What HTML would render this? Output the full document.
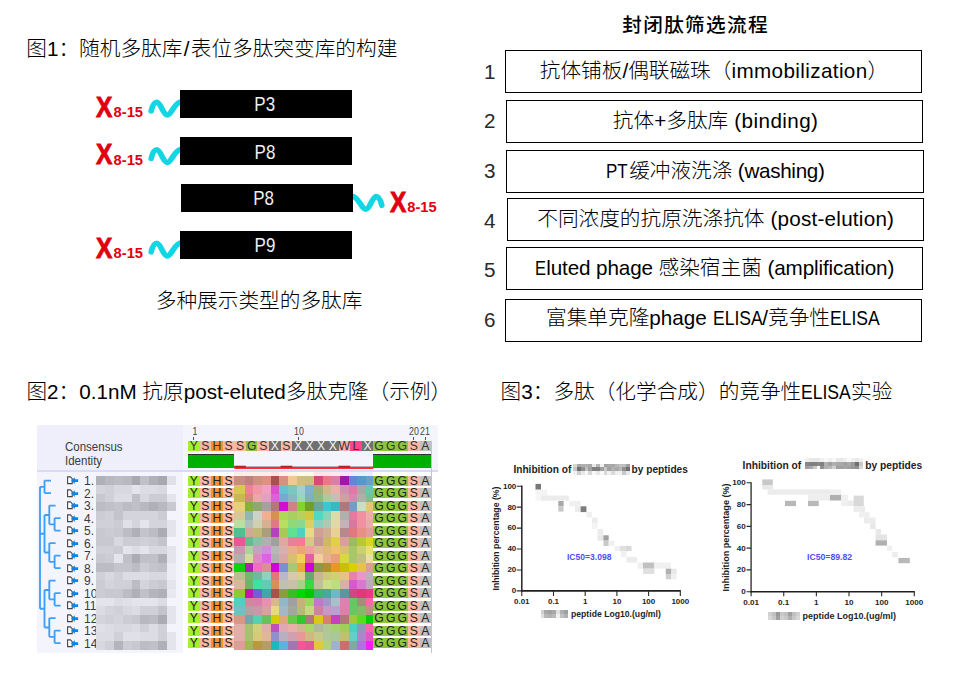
<!DOCTYPE html>
<html><head><meta charset="utf-8">
<style>
*{margin:0;padding:0;box-sizing:border-box}
html,body{width:968px;height:676px;overflow:hidden;background:#fff}
body{position:relative;font-family:"Liberation Sans","Noto Sans CJK SC",sans-serif;color:#000}
.t{position:absolute;white-space:nowrap;line-height:1;font-size:20.67px;font-weight:300}
i{font-style:normal}
.sx{display:inline-block;transform-origin:0 0}
.up{font-size:18.5px;letter-spacing:-0.6px}
.bar{position:absolute;left:180.2px;width:172px;height:28.3px;background:#000}
.bar span{position:absolute;left:0;right:0;top:3px;text-align:center;color:#eee;font-size:20.67px;line-height:22px;transform:scaleX(0.82)}
.xb,.xs{position:absolute;color:#e0000f;font-weight:bold;white-space:nowrap;line-height:1;font-family:"Liberation Sans",sans-serif}
.xb{font-size:29.5px;transform:scaleX(0.83);transform-origin:0 0;-webkit-text-stroke:0.9px #e0000f}
.xs{font-size:14.7px}
.box{position:absolute;border:1.2px solid #000;height:42px}
.box span{position:absolute;left:0;right:0;top:9px;text-align:center;font-size:20.67px;line-height:22px;white-space:nowrap;font-weight:300}
.num{position:absolute;font-size:20.67px;line-height:1;color:#2a2a2a}
.abs{position:absolute}
.c{position:absolute;height:10.4px;width:11.58px;text-align:center;font-size:12.2px;line-height:11.2px;color:#222;font-family:"Liberation Sans",sans-serif}
.m{position:absolute}
</style></head><body>

<div class="t" style="left:26.3px;top:38.5px">图1：随机多肽库<i style="margin:0 1.3px">/</i>表位多肽突变库的构建</div>
<svg class="abs" style="left:0;top:0" width="460" height="340">
 <g fill="none" stroke="#12d6e4" stroke-width="5.6" stroke-linecap="round">
  <path id="wv" d="M151.2 110.9 C152.3 106.5,154 102.3,156.8 102.3 C160.8 102.3,163 115,167.4 115 C171.6 115,174.5 102,181 102"/>
  <path d="M151.2 110.9 C152.3 106.5,154 102.3,156.8 102.3 C160.8 102.3,163 115,167.4 115 C171.6 115,174.5 102,181 102" transform="translate(0 47.5)"/>
  <path d="M151.2 110.9 C152.3 106.5,154 102.3,156.8 102.3 C160.8 102.3,163 115,167.4 115 C171.6 115,174.5 102,181 102" transform="translate(0 141)"/>
  <path d="M151.2 110.9 C152.3 106.5,154 102.3,156.8 102.3 C160.8 102.3,163 115,167.4 115 C171.6 115,174.5 102,181 102" transform="translate(533 94.3) scale(-1 1)"/>
 </g>
</svg>
<div class="bar" style="top:89.6px"><span style="left:-3.4px">P3</span></div>
<div class="bar" style="top:137px"><span style="left:-1.9px;top:4px">P8</span></div>
<div class="bar" style="top:183.9px;left:180.6px"><span style="left:-7.1px;top:3.5px">P8</span></div>
<div class="bar" style="top:230.5px"><span style="left:-1.9px">P9</span></div>
<div class="xb" style="left:95.9px;top:91.83px">X</div><div class="xs" style="left:113.6px;top:105.36px">8-15</div>
<div class="xb" style="left:95.9px;top:139.33px">X</div><div class="xs" style="left:113.6px;top:152.86px">8-15</div>
<div class="xb" style="left:389.6px;top:186.63px">X</div><div class="xs" style="left:407.3px;top:200.16px">8-15</div>
<div class="xb" style="left:95.9px;top:232.83px">X</div><div class="xs" style="left:113.6px;top:246.36px">8-15</div>
<div class="t" style="left:155.8px;top:290.8px">多种展示类型的多肽库</div>


<div class="t" style="left:622.2px;top:16.3px;font-weight:500;font-size:19.6px;letter-spacing:1.38px">封闭肽筛选流程</div>
<div class="num" style="left:484px;top:62px">1</div>
<div class="num" style="left:484px;top:111px">2</div>
<div class="num" style="left:484px;top:161px">3</div>
<div class="num" style="left:484px;top:211px">4</div>
<div class="num" style="left:484px;top:260px">5</div>
<div class="num" style="left:484px;top:310px">6</div>
<div class="box" style="left:504.9px;top:49.9px;width:417.1px;height:43px"><span style="top:9.3px;left:0.6px;right:-0.6px">抗体铺板/偶联磁珠（<i class="lw" style="letter-spacing:0.38px">immobilization</i>）</span></div>
<div class="box" style="left:506px;top:100px;width:417px;height:42.9px"><span style="top:9px;left:1.1px;right:-1.1px">抗体+多肽库<i class="lw" style="letter-spacing:0.4px"> (binding)</i></span></div>
<div class="box" style="left:506px;top:150.1px;width:417.7px;height:42.7px"><span style="top:9.0px;left:0.3px;right:-0.3px"><i class="sx" style="transform:scaleX(0.82);margin-right:-3.0px">PT</i>缓冲液洗涤<i class="lw" style="letter-spacing:-0.32px"> (washing)</i></span></div>
<div class="box" style="left:507px;top:197.9px;width:416.7px;height:42.9px"><span style="top:9.3px;left:0.4px;right:-0.4px">不同浓度的抗原洗涤抗体<i class="lw" style="letter-spacing:0.23px"> (post-elution)</i></span></div>
<div class="box" style="left:506px;top:247px;width:417px;height:42.8px"><span style="top:9.2px;left:0.2px;right:-0.2px"><i class="sx" style="transform:scaleX(0.8);margin-right:-2.76px">E</i><i class="lw" style="letter-spacing:-0.12px">luted phage </i>感染宿主菌<i class="lw" style="letter-spacing:-0.12px"> (amplification)</i></span></div>
<div class="box" style="left:505px;top:299.1px;width:417px;height:43px"><span style="top:7.1px;left:-0.6px;right:0.6px">富集单克隆<i class="lw">phage </i><i class="sx" style="transform:scaleX(0.85);margin-right:-8.8px">ELISA</i>/竞争性<i class="sx" style="transform:scaleX(0.85);margin-right:-8.8px">ELISA</i></span></div>
<div class="t" style="left:26.4px;top:381.6px">图2：0.1nM 抗原post-eluted多肽克隆（示例）</div>
<div class="t" style="left:500.6px;top:382.2px">图3：多肽（化学合成）的竞争性<i class="sx" style="transform:scaleX(0.85);margin-right:-8.8px">ELISA</i>实验</div>

<div class="abs" style="left:37.3px;top:425px;width:400.7px;height:45.10000000000002px;background:#f4f4fc"></div>
<div class="abs" style="left:37.3px;top:425px;width:145.7px;height:45.10000000000002px;background:#efeffb"></div>
<div class="abs" style="left:37.3px;top:470.1px;width:400.7px;height:1.6px;background:#dadaf8"></div>
<div class="abs" style="left:37.3px;top:471.70000000000005px;width:145.7px;height:181.19999999999996px;background:#f4f4fd"></div>
<div class="abs" style="left:183px;top:471.70000000000005px;width:255px;height:181.19999999999996px;background:#fff"></div>
<div class="abs" style="left:431.2px;top:440.5px;width:0.9px;height:212px;background:#c4c4c4"></div>
<div class="t" style="left:64.5px;top:441.0px;font-size:12.5px;font-weight:400;transform:scaleX(0.92);transform-origin:0 0;color:#3a3a3a;font-family:'Liberation Sans',sans-serif">Consensus</div>
<div class="t" style="left:64.5px;top:455.0px;font-size:12.5px;font-weight:400;transform:scaleX(0.92);transform-origin:0 0;color:#3a3a3a;font-family:'Liberation Sans',sans-serif">Identity</div>
<div class="c" style="left:188.00px;top:441px;background:#a2f030;color:#333">Y</div>
<div class="c" style="left:199.58px;top:441px;background:#fcb8a2;color:#333">S</div>
<div class="c" style="left:211.16px;top:441px;background:#fa9030;color:#333">H</div>
<div class="c" style="left:222.74px;top:441px;background:#fcb8a2;color:#333">S</div>
<div class="c" style="left:234.32px;top:441px;background:#fcb8a2;color:#333">S</div>
<div class="c" style="left:245.90px;top:441px;background:#8cc63e;color:#333">G</div>
<div class="c" style="left:257.48px;top:441px;background:#fcb8a2;color:#333">S</div>
<div class="c" style="left:269.06px;top:441px;background:#707070;color:#f4f4f4">X</div>
<div class="c" style="left:280.64px;top:441px;background:#fcb8a2;color:#333">S</div>
<div class="c" style="left:292.22px;top:441px;background:#707070;color:#f4f4f4">X</div>
<div class="c" style="left:303.80px;top:441px;background:#707070;color:#f4f4f4">X</div>
<div class="c" style="left:315.38px;top:441px;background:#707070;color:#f4f4f4">X</div>
<div class="c" style="left:326.96px;top:441px;background:#707070;color:#f4f4f4">X</div>
<div class="c" style="left:338.54px;top:441px;background:#f8b0b0;color:#333">W</div>
<div class="c" style="left:350.12px;top:441px;background:#f84888;color:#333">L</div>
<div class="c" style="left:361.70px;top:441px;background:#707070;color:#f4f4f4">X</div>
<div class="c" style="left:373.28px;top:441px;background:#8cc63e;color:#333">G</div>
<div class="c" style="left:384.86px;top:441px;background:#8cc63e;color:#333">G</div>
<div class="c" style="left:396.44px;top:441px;background:#8cc63e;color:#333">G</div>
<div class="c" style="left:408.02px;top:441px;background:#fcb8a2;color:#333">S</div>
<div class="c" style="left:419.60px;top:441px;background:#c0c0c0;color:#333">A</div>
<div class="t" style="left:184.79px;width:20px;text-align:center;top:426.9px;font-size:10px;font-weight:400;color:#444;transform:scaleX(0.88)">1</div>
<div class="abs" style="left:193.29px;top:437px;width:1px;height:2.8px;background:#555"></div>
<div class="t" style="left:289.01px;width:20px;text-align:center;top:426.9px;font-size:10px;font-weight:400;color:#444;transform:scaleX(0.88)">10</div>
<div class="abs" style="left:297.51px;top:437px;width:1px;height:2.8px;background:#555"></div>
<div class="t" style="left:403.51px;width:20px;text-align:center;top:426.9px;font-size:10px;font-weight:400;color:#444;transform:scaleX(0.88)">20</div>
<div class="abs" style="left:413.31px;top:437px;width:1px;height:2.8px;background:#555"></div>
<div class="t" style="left:415.19px;width:20px;text-align:center;top:426.9px;font-size:10px;font-weight:400;color:#444;transform:scaleX(0.88)">21</div>
<div class="abs" style="left:424.89px;top:437px;width:1px;height:2.8px;background:#555"></div>
<div class="abs" style="left:188.0px;top:454.3px;width:46.32px;height:14.2px;background:#00b000;border-top:1px solid #333"></div>
<div class="abs" style="left:373.28px;top:454.3px;width:57.90px;height:14.2px;background:#00b000;border-top:1px solid #333"></div>
<svg class="abs" style="left:0;top:0" width="450" height="480"><rect x="234.32" y="466.7" width="138.96" height="0.8" fill="#3a0000"/><rect x="234.32" y="467.5" width="138.96" height="1.3" fill="#f00"/><rect x="234.32" y="465.8" width="11.58" height="0.8" fill="#3a0000"/><rect x="234.32" y="466.6" width="11.58" height="1.0" fill="#f00"/><rect x="280.64" y="465.8" width="11.58" height="0.8" fill="#3a0000"/><rect x="280.64" y="466.6" width="11.58" height="1.0" fill="#f00"/><rect x="338.54" y="465.8" width="11.58" height="0.8" fill="#3a0000"/><rect x="338.54" y="466.6" width="11.58" height="1.0" fill="#f00"/></svg>
<div class="c" style="left:188.00px;top:475.50px;background:#a2f030">Y</div>
<div class="c" style="left:199.58px;top:475.50px;background:#fcb8a2">S</div>
<div class="c" style="left:211.16px;top:475.50px;background:#fa9030">H</div>
<div class="c" style="left:222.74px;top:475.50px;background:#fcb8a2">S</div>
<div class="c" style="left:373.28px;top:475.50px;background:#8cc63e">G</div>
<div class="c" style="left:384.86px;top:475.50px;background:#8cc63e">G</div>
<div class="c" style="left:396.44px;top:475.50px;background:#8cc63e">G</div>
<div class="c" style="left:408.02px;top:475.50px;background:#fcb8a2">S</div>
<div class="c" style="left:419.60px;top:475.50px;background:#c0c0c0">A</div>
<div class="c" style="left:188.00px;top:488.00px;background:#a2f030">Y</div>
<div class="c" style="left:199.58px;top:488.00px;background:#fcb8a2">S</div>
<div class="c" style="left:211.16px;top:488.00px;background:#fa9030">H</div>
<div class="c" style="left:222.74px;top:488.00px;background:#fcb8a2">S</div>
<div class="c" style="left:373.28px;top:488.00px;background:#8cc63e">G</div>
<div class="c" style="left:384.86px;top:488.00px;background:#8cc63e">G</div>
<div class="c" style="left:396.44px;top:488.00px;background:#8cc63e">G</div>
<div class="c" style="left:408.02px;top:488.00px;background:#fcb8a2">S</div>
<div class="c" style="left:419.60px;top:488.00px;background:#c0c0c0">A</div>
<div class="c" style="left:188.00px;top:500.50px;background:#a2f030">Y</div>
<div class="c" style="left:199.58px;top:500.50px;background:#fcb8a2">S</div>
<div class="c" style="left:211.16px;top:500.50px;background:#fa9030">H</div>
<div class="c" style="left:222.74px;top:500.50px;background:#fcb8a2">S</div>
<div class="c" style="left:373.28px;top:500.50px;background:#8cc63e">G</div>
<div class="c" style="left:384.86px;top:500.50px;background:#8cc63e">G</div>
<div class="c" style="left:396.44px;top:500.50px;background:#8cc63e">G</div>
<div class="c" style="left:408.02px;top:500.50px;background:#fcb8a2">S</div>
<div class="c" style="left:419.60px;top:500.50px;background:#c0c0c0">A</div>
<div class="c" style="left:188.00px;top:513.00px;background:#a2f030">Y</div>
<div class="c" style="left:199.58px;top:513.00px;background:#fcb8a2">S</div>
<div class="c" style="left:211.16px;top:513.00px;background:#fa9030">H</div>
<div class="c" style="left:222.74px;top:513.00px;background:#fcb8a2">S</div>
<div class="c" style="left:373.28px;top:513.00px;background:#8cc63e">G</div>
<div class="c" style="left:384.86px;top:513.00px;background:#8cc63e">G</div>
<div class="c" style="left:396.44px;top:513.00px;background:#8cc63e">G</div>
<div class="c" style="left:408.02px;top:513.00px;background:#fcb8a2">S</div>
<div class="c" style="left:419.60px;top:513.00px;background:#c0c0c0">A</div>
<div class="c" style="left:188.00px;top:525.50px;background:#a2f030">Y</div>
<div class="c" style="left:199.58px;top:525.50px;background:#fcb8a2">S</div>
<div class="c" style="left:211.16px;top:525.50px;background:#fa9030">H</div>
<div class="c" style="left:222.74px;top:525.50px;background:#fcb8a2">S</div>
<div class="c" style="left:373.28px;top:525.50px;background:#8cc63e">G</div>
<div class="c" style="left:384.86px;top:525.50px;background:#8cc63e">G</div>
<div class="c" style="left:396.44px;top:525.50px;background:#8cc63e">G</div>
<div class="c" style="left:408.02px;top:525.50px;background:#fcb8a2">S</div>
<div class="c" style="left:419.60px;top:525.50px;background:#c0c0c0">A</div>
<div class="c" style="left:188.00px;top:538.00px;background:#a2f030">Y</div>
<div class="c" style="left:199.58px;top:538.00px;background:#fcb8a2">S</div>
<div class="c" style="left:211.16px;top:538.00px;background:#fa9030">H</div>
<div class="c" style="left:222.74px;top:538.00px;background:#fcb8a2">S</div>
<div class="c" style="left:373.28px;top:538.00px;background:#8cc63e">G</div>
<div class="c" style="left:384.86px;top:538.00px;background:#8cc63e">G</div>
<div class="c" style="left:396.44px;top:538.00px;background:#8cc63e">G</div>
<div class="c" style="left:408.02px;top:538.00px;background:#fcb8a2">S</div>
<div class="c" style="left:419.60px;top:538.00px;background:#c0c0c0">A</div>
<div class="c" style="left:188.00px;top:550.50px;background:#a2f030">Y</div>
<div class="c" style="left:199.58px;top:550.50px;background:#fcb8a2">S</div>
<div class="c" style="left:211.16px;top:550.50px;background:#fa9030">H</div>
<div class="c" style="left:222.74px;top:550.50px;background:#fcb8a2">S</div>
<div class="c" style="left:373.28px;top:550.50px;background:#8cc63e">G</div>
<div class="c" style="left:384.86px;top:550.50px;background:#8cc63e">G</div>
<div class="c" style="left:396.44px;top:550.50px;background:#8cc63e">G</div>
<div class="c" style="left:408.02px;top:550.50px;background:#fcb8a2">S</div>
<div class="c" style="left:419.60px;top:550.50px;background:#c0c0c0">A</div>
<div class="c" style="left:188.00px;top:563.00px;background:#a2f030">Y</div>
<div class="c" style="left:199.58px;top:563.00px;background:#fcb8a2">S</div>
<div class="c" style="left:211.16px;top:563.00px;background:#fa9030">H</div>
<div class="c" style="left:222.74px;top:563.00px;background:#fcb8a2">S</div>
<div class="c" style="left:373.28px;top:563.00px;background:#8cc63e">G</div>
<div class="c" style="left:384.86px;top:563.00px;background:#8cc63e">G</div>
<div class="c" style="left:396.44px;top:563.00px;background:#8cc63e">G</div>
<div class="c" style="left:408.02px;top:563.00px;background:#fcb8a2">S</div>
<div class="c" style="left:419.60px;top:563.00px;background:#c0c0c0">A</div>
<div class="c" style="left:188.00px;top:575.50px;background:#a2f030">Y</div>
<div class="c" style="left:199.58px;top:575.50px;background:#fcb8a2">S</div>
<div class="c" style="left:211.16px;top:575.50px;background:#fa9030">H</div>
<div class="c" style="left:222.74px;top:575.50px;background:#fcb8a2">S</div>
<div class="c" style="left:373.28px;top:575.50px;background:#8cc63e">G</div>
<div class="c" style="left:384.86px;top:575.50px;background:#8cc63e">G</div>
<div class="c" style="left:396.44px;top:575.50px;background:#8cc63e">G</div>
<div class="c" style="left:408.02px;top:575.50px;background:#fcb8a2">S</div>
<div class="c" style="left:419.60px;top:575.50px;background:#c0c0c0">A</div>
<div class="c" style="left:188.00px;top:588.00px;background:#a2f030">Y</div>
<div class="c" style="left:199.58px;top:588.00px;background:#fcb8a2">S</div>
<div class="c" style="left:211.16px;top:588.00px;background:#fa9030">H</div>
<div class="c" style="left:222.74px;top:588.00px;background:#fcb8a2">S</div>
<div class="c" style="left:373.28px;top:588.00px;background:#8cc63e">G</div>
<div class="c" style="left:384.86px;top:588.00px;background:#8cc63e">G</div>
<div class="c" style="left:396.44px;top:588.00px;background:#8cc63e">G</div>
<div class="c" style="left:408.02px;top:588.00px;background:#fcb8a2">S</div>
<div class="c" style="left:419.60px;top:588.00px;background:#c0c0c0">A</div>
<div class="c" style="left:188.00px;top:600.50px;background:#a2f030">Y</div>
<div class="c" style="left:199.58px;top:600.50px;background:#fcb8a2">S</div>
<div class="c" style="left:211.16px;top:600.50px;background:#fa9030">H</div>
<div class="c" style="left:222.74px;top:600.50px;background:#fcb8a2">S</div>
<div class="c" style="left:373.28px;top:600.50px;background:#8cc63e">G</div>
<div class="c" style="left:384.86px;top:600.50px;background:#8cc63e">G</div>
<div class="c" style="left:396.44px;top:600.50px;background:#8cc63e">G</div>
<div class="c" style="left:408.02px;top:600.50px;background:#fcb8a2">S</div>
<div class="c" style="left:419.60px;top:600.50px;background:#c0c0c0">A</div>
<div class="c" style="left:188.00px;top:613.00px;background:#a2f030">Y</div>
<div class="c" style="left:199.58px;top:613.00px;background:#fcb8a2">S</div>
<div class="c" style="left:211.16px;top:613.00px;background:#fa9030">H</div>
<div class="c" style="left:222.74px;top:613.00px;background:#fcb8a2">S</div>
<div class="c" style="left:373.28px;top:613.00px;background:#8cc63e">G</div>
<div class="c" style="left:384.86px;top:613.00px;background:#8cc63e">G</div>
<div class="c" style="left:396.44px;top:613.00px;background:#8cc63e">G</div>
<div class="c" style="left:408.02px;top:613.00px;background:#fcb8a2">S</div>
<div class="c" style="left:419.60px;top:613.00px;background:#c0c0c0">A</div>
<div class="c" style="left:188.00px;top:625.50px;background:#a2f030">Y</div>
<div class="c" style="left:199.58px;top:625.50px;background:#fcb8a2">S</div>
<div class="c" style="left:211.16px;top:625.50px;background:#fa9030">H</div>
<div class="c" style="left:222.74px;top:625.50px;background:#fcb8a2">S</div>
<div class="c" style="left:373.28px;top:625.50px;background:#8cc63e">G</div>
<div class="c" style="left:384.86px;top:625.50px;background:#8cc63e">G</div>
<div class="c" style="left:396.44px;top:625.50px;background:#8cc63e">G</div>
<div class="c" style="left:408.02px;top:625.50px;background:#fcb8a2">S</div>
<div class="c" style="left:419.60px;top:625.50px;background:#c0c0c0">A</div>
<div class="c" style="left:188.00px;top:638.00px;background:#a2f030">Y</div>
<div class="c" style="left:199.58px;top:638.00px;background:#fcb8a2">S</div>
<div class="c" style="left:211.16px;top:638.00px;background:#fa9030">H</div>
<div class="c" style="left:222.74px;top:638.00px;background:#fcb8a2">S</div>
<div class="c" style="left:373.28px;top:638.00px;background:#8cc63e">G</div>
<div class="c" style="left:384.86px;top:638.00px;background:#8cc63e">G</div>
<div class="c" style="left:396.44px;top:638.00px;background:#8cc63e">G</div>
<div class="c" style="left:408.02px;top:638.00px;background:#fcb8a2">S</div>
<div class="c" style="left:419.60px;top:638.00px;background:#c0c0c0">A</div>
<div class="m" style="left:234.30px;top:471.6px;width:10.46px;height:4.70px;background:#fdeeea"></div>
<div class="m" style="left:244.76px;top:471.6px;width:8.66px;height:4.70px;background:#fdeeea"></div>
<div class="m" style="left:253.42px;top:471.6px;width:8.66px;height:4.70px;background:#fdeeea"></div>
<div class="m" style="left:262.08px;top:471.6px;width:8.66px;height:4.70px;background:#fdeeea"></div>
<div class="m" style="left:270.74px;top:471.6px;width:8.66px;height:4.70px;background:#fde2e2"></div>
<div class="m" style="left:279.40px;top:471.6px;width:8.66px;height:4.70px;background:#fff0e8"></div>
<div class="m" style="left:288.06px;top:471.6px;width:8.66px;height:4.70px;background:#fff4e8"></div>
<div class="m" style="left:296.72px;top:471.6px;width:8.66px;height:4.70px;background:#fffae8"></div>
<div class="m" style="left:305.38px;top:471.6px;width:8.66px;height:4.70px;background:#fffae8"></div>
<div class="m" style="left:314.04px;top:471.6px;width:8.66px;height:4.70px;background:#ffe4ea"></div>
<div class="m" style="left:322.70px;top:471.6px;width:8.66px;height:4.70px;background:#ffe4ea"></div>
<div class="m" style="left:331.36px;top:471.6px;width:8.66px;height:4.70px;background:#ffe8ee"></div>
<div class="m" style="left:340.02px;top:471.6px;width:8.66px;height:4.70px;background:#ffe2ff"></div>
<div class="m" style="left:348.68px;top:471.6px;width:8.66px;height:4.70px;background:#e8f0ff"></div>
<div class="m" style="left:357.34px;top:471.6px;width:8.66px;height:4.70px;background:#e8f0ff"></div>
<div class="m" style="left:366.00px;top:471.6px;width:7.30px;height:4.70px;background:#e8f0ff"></div>
<div class="m" style="left:234.30px;top:476.30px;width:10.56px;height:8.76px;background:#c88c80"></div>
<div class="m" style="left:244.76px;top:476.30px;width:8.76px;height:8.76px;background:#c08080"></div>
<div class="m" style="left:253.42px;top:476.30px;width:8.76px;height:8.76px;background:#d09080"></div>
<div class="m" style="left:262.08px;top:476.30px;width:8.76px;height:8.76px;background:#e09080"></div>
<div class="m" style="left:270.74px;top:476.30px;width:8.76px;height:8.76px;background:#a85050"></div>
<div class="m" style="left:279.40px;top:476.30px;width:8.76px;height:8.76px;background:#d89080"></div>
<div class="m" style="left:288.06px;top:476.30px;width:8.76px;height:8.76px;background:#f0c890"></div>
<div class="m" style="left:296.72px;top:476.30px;width:8.76px;height:8.76px;background:#d0c080"></div>
<div class="m" style="left:305.38px;top:476.30px;width:8.76px;height:8.76px;background:#c8c080"></div>
<div class="m" style="left:314.04px;top:476.30px;width:8.76px;height:8.76px;background:#d84878"></div>
<div class="m" style="left:322.70px;top:476.30px;width:8.76px;height:8.76px;background:#e87888"></div>
<div class="m" style="left:331.36px;top:476.30px;width:8.76px;height:8.76px;background:#d880a8"></div>
<div class="m" style="left:340.02px;top:476.30px;width:8.76px;height:8.76px;background:#a018a8"></div>
<div class="m" style="left:348.68px;top:476.30px;width:8.76px;height:8.76px;background:#6088d8"></div>
<div class="m" style="left:357.34px;top:476.30px;width:8.76px;height:8.76px;background:#5898c8"></div>
<div class="m" style="left:366.00px;top:476.30px;width:7.40px;height:8.76px;background:#68a0c8"></div>
<div class="m" style="left:234.30px;top:484.96px;width:10.56px;height:8.76px;background:#d8c850"></div>
<div class="m" style="left:244.76px;top:484.96px;width:8.76px;height:8.76px;background:#f08098"></div>
<div class="m" style="left:253.42px;top:484.96px;width:8.76px;height:8.76px;background:#f098a8"></div>
<div class="m" style="left:262.08px;top:484.96px;width:8.76px;height:8.76px;background:#f0a0c0"></div>
<div class="m" style="left:270.74px;top:484.96px;width:8.76px;height:8.76px;background:#d850d0"></div>
<div class="m" style="left:279.40px;top:484.96px;width:8.76px;height:8.76px;background:#68c0d0"></div>
<div class="m" style="left:288.06px;top:484.96px;width:8.76px;height:8.76px;background:#78c8c0"></div>
<div class="m" style="left:296.72px;top:484.96px;width:8.76px;height:8.76px;background:#a0d0d0"></div>
<div class="m" style="left:305.38px;top:484.96px;width:8.76px;height:8.76px;background:#80b0d0"></div>
<div class="m" style="left:314.04px;top:484.96px;width:8.76px;height:8.76px;background:#a0b078"></div>
<div class="m" style="left:322.70px;top:484.96px;width:8.76px;height:8.76px;background:#d0b888"></div>
<div class="m" style="left:331.36px;top:484.96px;width:8.76px;height:8.76px;background:#e8b0a8"></div>
<div class="m" style="left:340.02px;top:484.96px;width:8.76px;height:8.76px;background:#d090b0"></div>
<div class="m" style="left:348.68px;top:484.96px;width:8.76px;height:8.76px;background:#e078a8"></div>
<div class="m" style="left:357.34px;top:484.96px;width:8.76px;height:8.76px;background:#a8a8a8"></div>
<div class="m" style="left:366.00px;top:484.96px;width:7.40px;height:8.76px;background:#68c8a8"></div>
<div class="m" style="left:234.30px;top:493.62px;width:10.56px;height:8.76px;background:#c8b850"></div>
<div class="m" style="left:244.76px;top:493.62px;width:8.76px;height:8.76px;background:#d88878"></div>
<div class="m" style="left:253.42px;top:493.62px;width:8.76px;height:8.76px;background:#e8a8a8"></div>
<div class="m" style="left:262.08px;top:493.62px;width:8.76px;height:8.76px;background:#e0a0c0"></div>
<div class="m" style="left:270.74px;top:493.62px;width:8.76px;height:8.76px;background:#e060d8"></div>
<div class="m" style="left:279.40px;top:493.62px;width:8.76px;height:8.76px;background:#78a8d8"></div>
<div class="m" style="left:288.06px;top:493.62px;width:8.76px;height:8.76px;background:#88b8c0"></div>
<div class="m" style="left:296.72px;top:493.62px;width:8.76px;height:8.76px;background:#98d8b8"></div>
<div class="m" style="left:305.38px;top:493.62px;width:8.76px;height:8.76px;background:#80b0b8"></div>
<div class="m" style="left:314.04px;top:493.62px;width:8.76px;height:8.76px;background:#90b880"></div>
<div class="m" style="left:322.70px;top:493.62px;width:8.76px;height:8.76px;background:#b0c8a0"></div>
<div class="m" style="left:331.36px;top:493.62px;width:8.76px;height:8.76px;background:#c0c0b8"></div>
<div class="m" style="left:340.02px;top:493.62px;width:8.76px;height:8.76px;background:#d0a0a0"></div>
<div class="m" style="left:348.68px;top:493.62px;width:8.76px;height:8.76px;background:#d888b0"></div>
<div class="m" style="left:357.34px;top:493.62px;width:8.76px;height:8.76px;background:#b0b0a8"></div>
<div class="m" style="left:366.00px;top:493.62px;width:7.40px;height:8.76px;background:#78c090"></div>
<div class="m" style="left:234.30px;top:502.28px;width:10.56px;height:8.76px;background:#e8d078"></div>
<div class="m" style="left:244.76px;top:502.28px;width:8.76px;height:8.76px;background:#88b038"></div>
<div class="m" style="left:253.42px;top:502.28px;width:8.76px;height:8.76px;background:#90a870"></div>
<div class="m" style="left:262.08px;top:502.28px;width:8.76px;height:8.76px;background:#a8a0a0"></div>
<div class="m" style="left:270.74px;top:502.28px;width:8.76px;height:8.76px;background:#b07878"></div>
<div class="m" style="left:279.40px;top:502.28px;width:8.76px;height:8.76px;background:#d010d0"></div>
<div class="m" style="left:288.06px;top:502.28px;width:8.76px;height:8.76px;background:#d08088"></div>
<div class="m" style="left:296.72px;top:502.28px;width:8.76px;height:8.76px;background:#88d030"></div>
<div class="m" style="left:305.38px;top:502.28px;width:8.76px;height:8.76px;background:#70a028"></div>
<div class="m" style="left:314.04px;top:502.28px;width:8.76px;height:8.76px;background:#68a898"></div>
<div class="m" style="left:322.70px;top:502.28px;width:8.76px;height:8.76px;background:#38c8d0"></div>
<div class="m" style="left:331.36px;top:502.28px;width:8.76px;height:8.76px;background:#38b8c0"></div>
<div class="m" style="left:340.02px;top:502.28px;width:8.76px;height:8.76px;background:#b07878"></div>
<div class="m" style="left:348.68px;top:502.28px;width:8.76px;height:8.76px;background:#70a0c0"></div>
<div class="m" style="left:357.34px;top:502.28px;width:8.76px;height:8.76px;background:#c8e0c0"></div>
<div class="m" style="left:366.00px;top:502.28px;width:7.40px;height:8.76px;background:#e0c878"></div>
<div class="m" style="left:234.30px;top:510.94px;width:10.56px;height:8.76px;background:#d8c898"></div>
<div class="m" style="left:244.76px;top:510.94px;width:8.76px;height:8.76px;background:#90b8b0"></div>
<div class="m" style="left:253.42px;top:510.94px;width:8.76px;height:8.76px;background:#d0d0c8"></div>
<div class="m" style="left:262.08px;top:510.94px;width:8.76px;height:8.76px;background:#f0b090"></div>
<div class="m" style="left:270.74px;top:510.94px;width:8.76px;height:8.76px;background:#d89050"></div>
<div class="m" style="left:279.40px;top:510.94px;width:8.76px;height:8.76px;background:#b0d858"></div>
<div class="m" style="left:288.06px;top:510.94px;width:8.76px;height:8.76px;background:#a8d060"></div>
<div class="m" style="left:296.72px;top:510.94px;width:8.76px;height:8.76px;background:#b8d060"></div>
<div class="m" style="left:305.38px;top:510.94px;width:8.76px;height:8.76px;background:#d0c840"></div>
<div class="m" style="left:314.04px;top:510.94px;width:8.76px;height:8.76px;background:#50d8c0"></div>
<div class="m" style="left:322.70px;top:510.94px;width:8.76px;height:8.76px;background:#90d0b8"></div>
<div class="m" style="left:331.36px;top:510.94px;width:8.76px;height:8.76px;background:#e0d8a8"></div>
<div class="m" style="left:340.02px;top:510.94px;width:8.76px;height:8.76px;background:#b0b0b0"></div>
<div class="m" style="left:348.68px;top:510.94px;width:8.76px;height:8.76px;background:#e878a0"></div>
<div class="m" style="left:357.34px;top:510.94px;width:8.76px;height:8.76px;background:#f090a0"></div>
<div class="m" style="left:366.00px;top:510.94px;width:7.40px;height:8.76px;background:#e8b0a8"></div>
<div class="m" style="left:234.30px;top:519.60px;width:10.56px;height:8.76px;background:#b8e0a0"></div>
<div class="m" style="left:244.76px;top:519.60px;width:8.76px;height:8.76px;background:#b0c0b8"></div>
<div class="m" style="left:253.42px;top:519.60px;width:8.76px;height:8.76px;background:#d0d0b0"></div>
<div class="m" style="left:262.08px;top:519.60px;width:8.76px;height:8.76px;background:#d8b090"></div>
<div class="m" style="left:270.74px;top:519.60px;width:8.76px;height:8.76px;background:#e07888"></div>
<div class="m" style="left:279.40px;top:519.60px;width:8.76px;height:8.76px;background:#b8e060"></div>
<div class="m" style="left:288.06px;top:519.60px;width:8.76px;height:8.76px;background:#90d878"></div>
<div class="m" style="left:296.72px;top:519.60px;width:8.76px;height:8.76px;background:#88d890"></div>
<div class="m" style="left:305.38px;top:519.60px;width:8.76px;height:8.76px;background:#d8d060"></div>
<div class="m" style="left:314.04px;top:519.60px;width:8.76px;height:8.76px;background:#88d0c0"></div>
<div class="m" style="left:322.70px;top:519.60px;width:8.76px;height:8.76px;background:#b0c8b0"></div>
<div class="m" style="left:331.36px;top:519.60px;width:8.76px;height:8.76px;background:#e0d8a8"></div>
<div class="m" style="left:340.02px;top:519.60px;width:8.76px;height:8.76px;background:#c8b0b8"></div>
<div class="m" style="left:348.68px;top:519.60px;width:8.76px;height:8.76px;background:#d878a0"></div>
<div class="m" style="left:357.34px;top:519.60px;width:8.76px;height:8.76px;background:#f090a0"></div>
<div class="m" style="left:366.00px;top:519.60px;width:7.40px;height:8.76px;background:#e0b0a8"></div>
<div class="m" style="left:234.30px;top:528.26px;width:10.56px;height:8.76px;background:#50c090"></div>
<div class="m" style="left:244.76px;top:528.26px;width:8.76px;height:8.76px;background:#d0a898"></div>
<div class="m" style="left:253.42px;top:528.26px;width:8.76px;height:8.76px;background:#c0b878"></div>
<div class="m" style="left:262.08px;top:528.26px;width:8.76px;height:8.76px;background:#a8a078"></div>
<div class="m" style="left:270.74px;top:528.26px;width:8.76px;height:8.76px;background:#b840b8"></div>
<div class="m" style="left:279.40px;top:528.26px;width:8.76px;height:8.76px;background:#a8c858"></div>
<div class="m" style="left:288.06px;top:528.26px;width:8.76px;height:8.76px;background:#60e090"></div>
<div class="m" style="left:296.72px;top:528.26px;width:8.76px;height:8.76px;background:#50d0c0"></div>
<div class="m" style="left:305.38px;top:528.26px;width:8.76px;height:8.76px;background:#e8d888"></div>
<div class="m" style="left:314.04px;top:528.26px;width:8.76px;height:8.76px;background:#d0a098"></div>
<div class="m" style="left:322.70px;top:528.26px;width:8.76px;height:8.76px;background:#d0b090"></div>
<div class="m" style="left:331.36px;top:528.26px;width:8.76px;height:8.76px;background:#e8d098"></div>
<div class="m" style="left:340.02px;top:528.26px;width:8.76px;height:8.76px;background:#b88890"></div>
<div class="m" style="left:348.68px;top:528.26px;width:8.76px;height:8.76px;background:#e07880"></div>
<div class="m" style="left:357.34px;top:528.26px;width:8.76px;height:8.76px;background:#e89088"></div>
<div class="m" style="left:366.00px;top:528.26px;width:7.40px;height:8.76px;background:#e0a098"></div>
<div class="m" style="left:234.30px;top:536.92px;width:10.56px;height:8.76px;background:#e85898"></div>
<div class="m" style="left:244.76px;top:536.92px;width:8.76px;height:8.76px;background:#68b890"></div>
<div class="m" style="left:253.42px;top:536.92px;width:8.76px;height:8.76px;background:#88c0a8"></div>
<div class="m" style="left:262.08px;top:536.92px;width:8.76px;height:8.76px;background:#b0b0b0"></div>
<div class="m" style="left:270.74px;top:536.92px;width:8.76px;height:8.76px;background:#a0a0a0"></div>
<div class="m" style="left:279.40px;top:536.92px;width:8.76px;height:8.76px;background:#e0a8a0"></div>
<div class="m" style="left:288.06px;top:536.92px;width:8.76px;height:8.76px;background:#e88098"></div>
<div class="m" style="left:296.72px;top:536.92px;width:8.76px;height:8.76px;background:#f87898"></div>
<div class="m" style="left:305.38px;top:536.92px;width:8.76px;height:8.76px;background:#d8c888"></div>
<div class="m" style="left:314.04px;top:536.92px;width:8.76px;height:8.76px;background:#c89898"></div>
<div class="m" style="left:322.70px;top:536.92px;width:8.76px;height:8.76px;background:#d0b860"></div>
<div class="m" style="left:331.36px;top:536.92px;width:8.76px;height:8.76px;background:#e0d048"></div>
<div class="m" style="left:340.02px;top:536.92px;width:8.76px;height:8.76px;background:#d8a098"></div>
<div class="m" style="left:348.68px;top:536.92px;width:8.76px;height:8.76px;background:#a0b860"></div>
<div class="m" style="left:357.34px;top:536.92px;width:8.76px;height:8.76px;background:#b8c838"></div>
<div class="m" style="left:366.00px;top:536.92px;width:7.40px;height:8.76px;background:#d8d820"></div>
<div class="m" style="left:234.30px;top:545.58px;width:10.56px;height:8.76px;background:#c898b0"></div>
<div class="m" style="left:244.76px;top:545.58px;width:8.76px;height:8.76px;background:#b0d0a0"></div>
<div class="m" style="left:253.42px;top:545.58px;width:8.76px;height:8.76px;background:#c8a0c0"></div>
<div class="m" style="left:262.08px;top:545.58px;width:8.76px;height:8.76px;background:#d888e0"></div>
<div class="m" style="left:270.74px;top:545.58px;width:8.76px;height:8.76px;background:#b8b8b8"></div>
<div class="m" style="left:279.40px;top:545.58px;width:8.76px;height:8.76px;background:#d8b0b0"></div>
<div class="m" style="left:288.06px;top:545.58px;width:8.76px;height:8.76px;background:#e8b088"></div>
<div class="m" style="left:296.72px;top:545.58px;width:8.76px;height:8.76px;background:#e8a870"></div>
<div class="m" style="left:305.38px;top:545.58px;width:8.76px;height:8.76px;background:#f0a0a0"></div>
<div class="m" style="left:314.04px;top:545.58px;width:8.76px;height:8.76px;background:#e0b898"></div>
<div class="m" style="left:322.70px;top:545.58px;width:8.76px;height:8.76px;background:#e0b878"></div>
<div class="m" style="left:331.36px;top:545.58px;width:8.76px;height:8.76px;background:#f0c070"></div>
<div class="m" style="left:340.02px;top:545.58px;width:8.76px;height:8.76px;background:#d8c070"></div>
<div class="m" style="left:348.68px;top:545.58px;width:8.76px;height:8.76px;background:#a8c868"></div>
<div class="m" style="left:357.34px;top:545.58px;width:8.76px;height:8.76px;background:#c8d070"></div>
<div class="m" style="left:366.00px;top:545.58px;width:7.40px;height:8.76px;background:#e8e070"></div>
<div class="m" style="left:234.30px;top:554.24px;width:10.56px;height:8.76px;background:#b0b0b0"></div>
<div class="m" style="left:244.76px;top:554.24px;width:8.76px;height:8.76px;background:#d8d8a0"></div>
<div class="m" style="left:253.42px;top:554.24px;width:8.76px;height:8.76px;background:#e088c8"></div>
<div class="m" style="left:262.08px;top:554.24px;width:8.76px;height:8.76px;background:#e060e8"></div>
<div class="m" style="left:270.74px;top:554.24px;width:8.76px;height:8.76px;background:#b0b0b0"></div>
<div class="m" style="left:279.40px;top:554.24px;width:8.76px;height:8.76px;background:#d8a8a8"></div>
<div class="m" style="left:288.06px;top:554.24px;width:8.76px;height:8.76px;background:#d8c070"></div>
<div class="m" style="left:296.72px;top:554.24px;width:8.76px;height:8.76px;background:#f0d058"></div>
<div class="m" style="left:305.38px;top:554.24px;width:8.76px;height:8.76px;background:#e060a0"></div>
<div class="m" style="left:314.04px;top:554.24px;width:8.76px;height:8.76px;background:#f0d098"></div>
<div class="m" style="left:322.70px;top:554.24px;width:8.76px;height:8.76px;background:#e8b090"></div>
<div class="m" style="left:331.36px;top:554.24px;width:8.76px;height:8.76px;background:#e8a078"></div>
<div class="m" style="left:340.02px;top:554.24px;width:8.76px;height:8.76px;background:#d8d840"></div>
<div class="m" style="left:348.68px;top:554.24px;width:8.76px;height:8.76px;background:#a8c868"></div>
<div class="m" style="left:357.34px;top:554.24px;width:8.76px;height:8.76px;background:#c0c080"></div>
<div class="m" style="left:366.00px;top:554.24px;width:7.40px;height:8.76px;background:#e8e0a0"></div>
<div class="m" style="left:234.30px;top:562.90px;width:10.56px;height:8.76px;background:#10d010"></div>
<div class="m" style="left:244.76px;top:562.90px;width:8.76px;height:8.76px;background:#b020b8"></div>
<div class="m" style="left:253.42px;top:562.90px;width:8.76px;height:8.76px;background:#f070c0"></div>
<div class="m" style="left:262.08px;top:562.90px;width:8.76px;height:8.76px;background:#d89090"></div>
<div class="m" style="left:270.74px;top:562.90px;width:8.76px;height:8.76px;background:#d000d8"></div>
<div class="m" style="left:279.40px;top:562.90px;width:8.76px;height:8.76px;background:#7890d0"></div>
<div class="m" style="left:288.06px;top:562.90px;width:8.76px;height:8.76px;background:#a8c878"></div>
<div class="m" style="left:296.72px;top:562.90px;width:8.76px;height:8.76px;background:#e8a840"></div>
<div class="m" style="left:305.38px;top:562.90px;width:8.76px;height:8.76px;background:#d000d8"></div>
<div class="m" style="left:314.04px;top:562.90px;width:8.76px;height:8.76px;background:#909848"></div>
<div class="m" style="left:322.70px;top:562.90px;width:8.76px;height:8.76px;background:#b09028"></div>
<div class="m" style="left:331.36px;top:562.90px;width:8.76px;height:8.76px;background:#e89820"></div>
<div class="m" style="left:340.02px;top:562.90px;width:8.76px;height:8.76px;background:#c8c000"></div>
<div class="m" style="left:348.68px;top:562.90px;width:8.76px;height:8.76px;background:#d8d000"></div>
<div class="m" style="left:357.34px;top:562.90px;width:8.76px;height:8.76px;background:#e8c050"></div>
<div class="m" style="left:366.00px;top:562.90px;width:7.40px;height:8.76px;background:#d8a090"></div>
<div class="m" style="left:234.30px;top:571.56px;width:10.56px;height:8.76px;background:#b8c090"></div>
<div class="m" style="left:244.76px;top:571.56px;width:8.76px;height:8.76px;background:#70b870"></div>
<div class="m" style="left:253.42px;top:571.56px;width:8.76px;height:8.76px;background:#70b8a0"></div>
<div class="m" style="left:262.08px;top:571.56px;width:8.76px;height:8.76px;background:#90d0c0"></div>
<div class="m" style="left:270.74px;top:571.56px;width:8.76px;height:8.76px;background:#e07878"></div>
<div class="m" style="left:279.40px;top:571.56px;width:8.76px;height:8.76px;background:#b8b8c8"></div>
<div class="m" style="left:288.06px;top:571.56px;width:8.76px;height:8.76px;background:#d8c8b0"></div>
<div class="m" style="left:296.72px;top:571.56px;width:8.76px;height:8.76px;background:#d8d090"></div>
<div class="m" style="left:305.38px;top:571.56px;width:8.76px;height:8.76px;background:#68a870"></div>
<div class="m" style="left:314.04px;top:571.56px;width:8.76px;height:8.76px;background:#c8b890"></div>
<div class="m" style="left:322.70px;top:571.56px;width:8.76px;height:8.76px;background:#d0c878"></div>
<div class="m" style="left:331.36px;top:571.56px;width:8.76px;height:8.76px;background:#d0d070"></div>
<div class="m" style="left:340.02px;top:571.56px;width:8.76px;height:8.76px;background:#e8c088"></div>
<div class="m" style="left:348.68px;top:571.56px;width:8.76px;height:8.76px;background:#e880b0"></div>
<div class="m" style="left:357.34px;top:571.56px;width:8.76px;height:8.76px;background:#e898c8"></div>
<div class="m" style="left:366.00px;top:571.56px;width:7.40px;height:8.76px;background:#c0b0b8"></div>
<div class="m" style="left:234.30px;top:580.22px;width:10.56px;height:8.76px;background:#d8b898"></div>
<div class="m" style="left:244.76px;top:580.22px;width:8.76px;height:8.76px;background:#68b868"></div>
<div class="m" style="left:253.42px;top:580.22px;width:8.76px;height:8.76px;background:#40e0a0"></div>
<div class="m" style="left:262.08px;top:580.22px;width:8.76px;height:8.76px;background:#68c8b8"></div>
<div class="m" style="left:270.74px;top:580.22px;width:8.76px;height:8.76px;background:#d89058"></div>
<div class="m" style="left:279.40px;top:580.22px;width:8.76px;height:8.76px;background:#c0c0b0"></div>
<div class="m" style="left:288.06px;top:580.22px;width:8.76px;height:8.76px;background:#c8c0a8"></div>
<div class="m" style="left:296.72px;top:580.22px;width:8.76px;height:8.76px;background:#a8d088"></div>
<div class="m" style="left:305.38px;top:580.22px;width:8.76px;height:8.76px;background:#38d840"></div>
<div class="m" style="left:314.04px;top:580.22px;width:8.76px;height:8.76px;background:#c0c0a0"></div>
<div class="m" style="left:322.70px;top:580.22px;width:8.76px;height:8.76px;background:#c8e088"></div>
<div class="m" style="left:331.36px;top:580.22px;width:8.76px;height:8.76px;background:#b8e080"></div>
<div class="m" style="left:340.02px;top:580.22px;width:8.76px;height:8.76px;background:#d8b0a8"></div>
<div class="m" style="left:348.68px;top:580.22px;width:8.76px;height:8.76px;background:#d858d0"></div>
<div class="m" style="left:357.34px;top:580.22px;width:8.76px;height:8.76px;background:#d878d0"></div>
<div class="m" style="left:366.00px;top:580.22px;width:7.40px;height:8.76px;background:#c0a8b8"></div>
<div class="m" style="left:234.30px;top:588.88px;width:10.56px;height:8.76px;background:#90c830"></div>
<div class="m" style="left:244.76px;top:588.88px;width:8.76px;height:8.76px;background:#c018b0"></div>
<div class="m" style="left:253.42px;top:588.88px;width:8.76px;height:8.76px;background:#7060d8"></div>
<div class="m" style="left:262.08px;top:588.88px;width:8.76px;height:8.76px;background:#40a8a8"></div>
<div class="m" style="left:270.74px;top:588.88px;width:8.76px;height:8.76px;background:#a85050"></div>
<div class="m" style="left:279.40px;top:588.88px;width:8.76px;height:8.76px;background:#88a038"></div>
<div class="m" style="left:288.06px;top:588.88px;width:8.76px;height:8.76px;background:#38c020"></div>
<div class="m" style="left:296.72px;top:588.88px;width:8.76px;height:8.76px;background:#00d800"></div>
<div class="m" style="left:305.38px;top:588.88px;width:8.76px;height:8.76px;background:#00c800"></div>
<div class="m" style="left:314.04px;top:588.88px;width:8.76px;height:8.76px;background:#38b870"></div>
<div class="m" style="left:322.70px;top:588.88px;width:8.76px;height:8.76px;background:#48a8a0"></div>
<div class="m" style="left:331.36px;top:588.88px;width:8.76px;height:8.76px;background:#70b8c8"></div>
<div class="m" style="left:340.02px;top:588.88px;width:8.76px;height:8.76px;background:#5898a0"></div>
<div class="m" style="left:348.68px;top:588.88px;width:8.76px;height:8.76px;background:#d04880"></div>
<div class="m" style="left:357.34px;top:588.88px;width:8.76px;height:8.76px;background:#e03878"></div>
<div class="m" style="left:366.00px;top:588.88px;width:7.40px;height:8.76px;background:#f03880"></div>
<div class="m" style="left:234.30px;top:597.54px;width:10.56px;height:8.76px;background:#50d0c0"></div>
<div class="m" style="left:244.76px;top:597.54px;width:8.76px;height:8.76px;background:#d088a0"></div>
<div class="m" style="left:253.42px;top:597.54px;width:8.76px;height:8.76px;background:#d880a8"></div>
<div class="m" style="left:262.08px;top:597.54px;width:8.76px;height:8.76px;background:#e890b0"></div>
<div class="m" style="left:270.74px;top:597.54px;width:8.76px;height:8.76px;background:#d8b888"></div>
<div class="m" style="left:279.40px;top:597.54px;width:8.76px;height:8.76px;background:#90b8c8"></div>
<div class="m" style="left:288.06px;top:597.54px;width:8.76px;height:8.76px;background:#a0a0a0"></div>
<div class="m" style="left:296.72px;top:597.54px;width:8.76px;height:8.76px;background:#c8b078"></div>
<div class="m" style="left:305.38px;top:597.54px;width:8.76px;height:8.76px;background:#98d860"></div>
<div class="m" style="left:314.04px;top:597.54px;width:8.76px;height:8.76px;background:#c078c8"></div>
<div class="m" style="left:322.70px;top:597.54px;width:8.76px;height:8.76px;background:#a098c8"></div>
<div class="m" style="left:331.36px;top:597.54px;width:8.76px;height:8.76px;background:#a8c0c8"></div>
<div class="m" style="left:340.02px;top:597.54px;width:8.76px;height:8.76px;background:#e080b0"></div>
<div class="m" style="left:348.68px;top:597.54px;width:8.76px;height:8.76px;background:#68c860"></div>
<div class="m" style="left:357.34px;top:597.54px;width:8.76px;height:8.76px;background:#a09078"></div>
<div class="m" style="left:366.00px;top:597.54px;width:7.40px;height:8.76px;background:#f868a8"></div>
<div class="m" style="left:234.30px;top:606.20px;width:10.56px;height:8.76px;background:#70c0c8"></div>
<div class="m" style="left:244.76px;top:606.20px;width:8.76px;height:8.76px;background:#b8a0a0"></div>
<div class="m" style="left:253.42px;top:606.20px;width:8.76px;height:8.76px;background:#c898a8"></div>
<div class="m" style="left:262.08px;top:606.20px;width:8.76px;height:8.76px;background:#d8a0a0"></div>
<div class="m" style="left:270.74px;top:606.20px;width:8.76px;height:8.76px;background:#e8d880"></div>
<div class="m" style="left:279.40px;top:606.20px;width:8.76px;height:8.76px;background:#a0b8c8"></div>
<div class="m" style="left:288.06px;top:606.20px;width:8.76px;height:8.76px;background:#a0a8a0"></div>
<div class="m" style="left:296.72px;top:606.20px;width:8.76px;height:8.76px;background:#b8b878"></div>
<div class="m" style="left:305.38px;top:606.20px;width:8.76px;height:8.76px;background:#c8d880"></div>
<div class="m" style="left:314.04px;top:606.20px;width:8.76px;height:8.76px;background:#d080a8"></div>
<div class="m" style="left:322.70px;top:606.20px;width:8.76px;height:8.76px;background:#c898c8"></div>
<div class="m" style="left:331.36px;top:606.20px;width:8.76px;height:8.76px;background:#b8a0d0"></div>
<div class="m" style="left:340.02px;top:606.20px;width:8.76px;height:8.76px;background:#e080a8"></div>
<div class="m" style="left:348.68px;top:606.20px;width:8.76px;height:8.76px;background:#68c860"></div>
<div class="m" style="left:357.34px;top:606.20px;width:8.76px;height:8.76px;background:#88b868"></div>
<div class="m" style="left:366.00px;top:606.20px;width:7.40px;height:8.76px;background:#c09088"></div>
<div class="m" style="left:234.30px;top:614.86px;width:10.56px;height:8.76px;background:#d89888"></div>
<div class="m" style="left:244.76px;top:614.86px;width:8.76px;height:8.76px;background:#70a8a8"></div>
<div class="m" style="left:253.42px;top:614.86px;width:8.76px;height:8.76px;background:#58d0a8"></div>
<div class="m" style="left:262.08px;top:614.86px;width:8.76px;height:8.76px;background:#68c060"></div>
<div class="m" style="left:270.74px;top:614.86px;width:8.76px;height:8.76px;background:#d0d000"></div>
<div class="m" style="left:279.40px;top:614.86px;width:8.76px;height:8.76px;background:#e0a878"></div>
<div class="m" style="left:288.06px;top:614.86px;width:8.76px;height:8.76px;background:#68c848"></div>
<div class="m" style="left:296.72px;top:614.86px;width:8.76px;height:8.76px;background:#30c830"></div>
<div class="m" style="left:305.38px;top:614.86px;width:8.76px;height:8.76px;background:#b07878"></div>
<div class="m" style="left:314.04px;top:614.86px;width:8.76px;height:8.76px;background:#d8c818"></div>
<div class="m" style="left:322.70px;top:614.86px;width:8.76px;height:8.76px;background:#d88070"></div>
<div class="m" style="left:331.36px;top:614.86px;width:8.76px;height:8.76px;background:#c840c0"></div>
<div class="m" style="left:340.02px;top:614.86px;width:8.76px;height:8.76px;background:#b07878"></div>
<div class="m" style="left:348.68px;top:614.86px;width:8.76px;height:8.76px;background:#a0c838"></div>
<div class="m" style="left:357.34px;top:614.86px;width:8.76px;height:8.76px;background:#50e020"></div>
<div class="m" style="left:366.00px;top:614.86px;width:7.40px;height:8.76px;background:#00d000"></div>
<div class="m" style="left:234.30px;top:623.52px;width:10.56px;height:8.76px;background:#e0b0a8"></div>
<div class="m" style="left:244.76px;top:623.52px;width:8.76px;height:8.76px;background:#a8c070"></div>
<div class="m" style="left:253.42px;top:623.52px;width:8.76px;height:8.76px;background:#d0d080"></div>
<div class="m" style="left:262.08px;top:623.52px;width:8.76px;height:8.76px;background:#e0b0a8"></div>
<div class="m" style="left:270.74px;top:623.52px;width:8.76px;height:8.76px;background:#c050c0"></div>
<div class="m" style="left:279.40px;top:623.52px;width:8.76px;height:8.76px;background:#e0a8b0"></div>
<div class="m" style="left:288.06px;top:623.52px;width:8.76px;height:8.76px;background:#e8b0a8"></div>
<div class="m" style="left:296.72px;top:623.52px;width:8.76px;height:8.76px;background:#d0b890"></div>
<div class="m" style="left:305.38px;top:623.52px;width:8.76px;height:8.76px;background:#a8d868"></div>
<div class="m" style="left:314.04px;top:623.52px;width:8.76px;height:8.76px;background:#b0b8a0"></div>
<div class="m" style="left:322.70px;top:623.52px;width:8.76px;height:8.76px;background:#b0c890"></div>
<div class="m" style="left:331.36px;top:623.52px;width:8.76px;height:8.76px;background:#a8d070"></div>
<div class="m" style="left:340.02px;top:623.52px;width:8.76px;height:8.76px;background:#a0d058"></div>
<div class="m" style="left:348.68px;top:623.52px;width:8.76px;height:8.76px;background:#48d0c0"></div>
<div class="m" style="left:357.34px;top:623.52px;width:8.76px;height:8.76px;background:#9098b8"></div>
<div class="m" style="left:366.00px;top:623.52px;width:7.40px;height:8.76px;background:#f868a8"></div>
<div class="m" style="left:234.30px;top:632.18px;width:10.56px;height:8.76px;background:#e0b0a8"></div>
<div class="m" style="left:244.76px;top:632.18px;width:8.76px;height:8.76px;background:#a8c070"></div>
<div class="m" style="left:253.42px;top:632.18px;width:8.76px;height:8.76px;background:#d8c878"></div>
<div class="m" style="left:262.08px;top:632.18px;width:8.76px;height:8.76px;background:#e0b898"></div>
<div class="m" style="left:270.74px;top:632.18px;width:8.76px;height:8.76px;background:#9090d0"></div>
<div class="m" style="left:279.40px;top:632.18px;width:8.76px;height:8.76px;background:#b8b0c0"></div>
<div class="m" style="left:288.06px;top:632.18px;width:8.76px;height:8.76px;background:#d0a0b0"></div>
<div class="m" style="left:296.72px;top:632.18px;width:8.76px;height:8.76px;background:#e89898"></div>
<div class="m" style="left:305.38px;top:632.18px;width:8.76px;height:8.76px;background:#d0b880"></div>
<div class="m" style="left:314.04px;top:632.18px;width:8.76px;height:8.76px;background:#c8c888"></div>
<div class="m" style="left:322.70px;top:632.18px;width:8.76px;height:8.76px;background:#b0c898"></div>
<div class="m" style="left:331.36px;top:632.18px;width:8.76px;height:8.76px;background:#a8c898"></div>
<div class="m" style="left:340.02px;top:632.18px;width:8.76px;height:8.76px;background:#c0c070"></div>
<div class="m" style="left:348.68px;top:632.18px;width:8.76px;height:8.76px;background:#60d0c8"></div>
<div class="m" style="left:357.34px;top:632.18px;width:8.76px;height:8.76px;background:#a888c8"></div>
<div class="m" style="left:366.00px;top:632.18px;width:7.40px;height:8.76px;background:#e058c8"></div>
<div class="m" style="left:234.30px;top:640.84px;width:10.56px;height:8.76px;background:#d8a098"></div>
<div class="m" style="left:244.76px;top:640.84px;width:8.76px;height:8.76px;background:#a0b858"></div>
<div class="m" style="left:253.42px;top:640.84px;width:8.76px;height:8.76px;background:#b89840"></div>
<div class="m" style="left:262.08px;top:640.84px;width:8.76px;height:8.76px;background:#b0a068"></div>
<div class="m" style="left:270.74px;top:640.84px;width:8.76px;height:8.76px;background:#20b8b8"></div>
<div class="m" style="left:279.40px;top:640.84px;width:8.76px;height:8.76px;background:#60b0e0"></div>
<div class="m" style="left:288.06px;top:640.84px;width:8.76px;height:8.76px;background:#a078b0"></div>
<div class="m" style="left:296.72px;top:640.84px;width:8.76px;height:8.76px;background:#f05898"></div>
<div class="m" style="left:305.38px;top:640.84px;width:8.76px;height:8.76px;background:#e05898"></div>
<div class="m" style="left:314.04px;top:640.84px;width:8.76px;height:8.76px;background:#e0c840"></div>
<div class="m" style="left:322.70px;top:640.84px;width:8.76px;height:8.76px;background:#b0d088"></div>
<div class="m" style="left:331.36px;top:640.84px;width:8.76px;height:8.76px;background:#a0b0d0"></div>
<div class="m" style="left:340.02px;top:640.84px;width:8.76px;height:8.76px;background:#c87070"></div>
<div class="m" style="left:348.68px;top:640.84px;width:8.76px;height:8.76px;background:#80a8a8"></div>
<div class="m" style="left:357.34px;top:640.84px;width:8.76px;height:8.76px;background:#b070e0"></div>
<div class="m" style="left:366.00px;top:640.84px;width:7.40px;height:8.76px;background:#f020f0"></div>
<div class="t" style="left:84px;top:475.30px;font-size:12px;font-weight:400;color:#3a3a3a">1.</div>
<svg class="abs" style="left:66px;top:476.10px" width="13" height="9" viewBox="0 0 13 9"><path d="M1.6 0.9H4.4L6.2 2.7V7.6H1.6Z" fill="#fff" stroke="#444" stroke-width="1.1"/><path d="M5.2 4.6L8.8 1.2V3.3H12.1V5.9H8.8V8Z" fill="#0a84e8"/></svg>
<div class="t" style="left:84px;top:487.80px;font-size:12px;font-weight:400;color:#3a3a3a">2.</div>
<svg class="abs" style="left:66px;top:488.60px" width="13" height="9" viewBox="0 0 13 9"><path d="M1.6 0.9H4.4L6.2 2.7V7.6H1.6Z" fill="#fff" stroke="#444" stroke-width="1.1"/><path d="M5.2 4.6L8.8 1.2V3.3H12.1V5.9H8.8V8Z" fill="#0a84e8"/></svg>
<div class="t" style="left:84px;top:500.30px;font-size:12px;font-weight:400;color:#3a3a3a">3.</div>
<svg class="abs" style="left:66px;top:501.10px" width="13" height="9" viewBox="0 0 13 9"><path d="M1.6 0.9H4.4L6.2 2.7V7.6H1.6Z" fill="#fff" stroke="#444" stroke-width="1.1"/><path d="M5.2 4.6L8.8 1.2V3.3H12.1V5.9H8.8V8Z" fill="#0a84e8"/></svg>
<div class="t" style="left:84px;top:512.80px;font-size:12px;font-weight:400;color:#3a3a3a">4.</div>
<svg class="abs" style="left:66px;top:513.60px" width="13" height="9" viewBox="0 0 13 9"><path d="M1.6 0.9H4.4L6.2 2.7V7.6H1.6Z" fill="#fff" stroke="#444" stroke-width="1.1"/><path d="M5.2 4.6L8.8 1.2V3.3H12.1V5.9H8.8V8Z" fill="#0a84e8"/></svg>
<div class="t" style="left:84px;top:525.30px;font-size:12px;font-weight:400;color:#3a3a3a">5.</div>
<svg class="abs" style="left:66px;top:526.10px" width="13" height="9" viewBox="0 0 13 9"><path d="M1.6 0.9H4.4L6.2 2.7V7.6H1.6Z" fill="#fff" stroke="#444" stroke-width="1.1"/><path d="M5.2 4.6L8.8 1.2V3.3H12.1V5.9H8.8V8Z" fill="#0a84e8"/></svg>
<div class="t" style="left:84px;top:537.80px;font-size:12px;font-weight:400;color:#3a3a3a">6.</div>
<svg class="abs" style="left:66px;top:538.60px" width="13" height="9" viewBox="0 0 13 9"><path d="M1.6 0.9H4.4L6.2 2.7V7.6H1.6Z" fill="#fff" stroke="#444" stroke-width="1.1"/><path d="M5.2 4.6L8.8 1.2V3.3H12.1V5.9H8.8V8Z" fill="#0a84e8"/></svg>
<div class="t" style="left:84px;top:550.30px;font-size:12px;font-weight:400;color:#3a3a3a">7.</div>
<svg class="abs" style="left:66px;top:551.10px" width="13" height="9" viewBox="0 0 13 9"><path d="M1.6 0.9H4.4L6.2 2.7V7.6H1.6Z" fill="#fff" stroke="#444" stroke-width="1.1"/><path d="M5.2 4.6L8.8 1.2V3.3H12.1V5.9H8.8V8Z" fill="#0a84e8"/></svg>
<div class="t" style="left:84px;top:562.80px;font-size:12px;font-weight:400;color:#3a3a3a">8.</div>
<svg class="abs" style="left:66px;top:563.60px" width="13" height="9" viewBox="0 0 13 9"><path d="M1.6 0.9H4.4L6.2 2.7V7.6H1.6Z" fill="#fff" stroke="#444" stroke-width="1.1"/><path d="M5.2 4.6L8.8 1.2V3.3H12.1V5.9H8.8V8Z" fill="#0a84e8"/></svg>
<div class="t" style="left:84px;top:575.30px;font-size:12px;font-weight:400;color:#3a3a3a">9.</div>
<svg class="abs" style="left:66px;top:576.10px" width="13" height="9" viewBox="0 0 13 9"><path d="M1.6 0.9H4.4L6.2 2.7V7.6H1.6Z" fill="#fff" stroke="#444" stroke-width="1.1"/><path d="M5.2 4.6L8.8 1.2V3.3H12.1V5.9H8.8V8Z" fill="#0a84e8"/></svg>
<div class="t" style="left:84px;top:587.80px;font-size:12px;font-weight:400;color:#3a3a3a">10.</div>
<svg class="abs" style="left:66px;top:588.60px" width="13" height="9" viewBox="0 0 13 9"><path d="M1.6 0.9H4.4L6.2 2.7V7.6H1.6Z" fill="#fff" stroke="#444" stroke-width="1.1"/><path d="M5.2 4.6L8.8 1.2V3.3H12.1V5.9H8.8V8Z" fill="#0a84e8"/></svg>
<div class="t" style="left:84px;top:600.30px;font-size:12px;font-weight:400;color:#3a3a3a">11.</div>
<svg class="abs" style="left:66px;top:601.10px" width="13" height="9" viewBox="0 0 13 9"><path d="M1.6 0.9H4.4L6.2 2.7V7.6H1.6Z" fill="#fff" stroke="#444" stroke-width="1.1"/><path d="M5.2 4.6L8.8 1.2V3.3H12.1V5.9H8.8V8Z" fill="#0a84e8"/></svg>
<div class="t" style="left:84px;top:612.80px;font-size:12px;font-weight:400;color:#3a3a3a">12.</div>
<svg class="abs" style="left:66px;top:613.60px" width="13" height="9" viewBox="0 0 13 9"><path d="M1.6 0.9H4.4L6.2 2.7V7.6H1.6Z" fill="#fff" stroke="#444" stroke-width="1.1"/><path d="M5.2 4.6L8.8 1.2V3.3H12.1V5.9H8.8V8Z" fill="#0a84e8"/></svg>
<div class="t" style="left:84px;top:625.30px;font-size:12px;font-weight:400;color:#3a3a3a">13.</div>
<svg class="abs" style="left:66px;top:626.10px" width="13" height="9" viewBox="0 0 13 9"><path d="M1.6 0.9H4.4L6.2 2.7V7.6H1.6Z" fill="#fff" stroke="#444" stroke-width="1.1"/><path d="M5.2 4.6L8.8 1.2V3.3H12.1V5.9H8.8V8Z" fill="#0a84e8"/></svg>
<div class="t" style="left:84px;top:637.80px;font-size:12px;font-weight:400;color:#3a3a3a">14.</div>
<svg class="abs" style="left:66px;top:638.60px" width="13" height="9" viewBox="0 0 13 9"><path d="M1.6 0.9H4.4L6.2 2.7V7.6H1.6Z" fill="#fff" stroke="#444" stroke-width="1.1"/><path d="M5.2 4.6L8.8 1.2V3.3H12.1V5.9H8.8V8Z" fill="#0a84e8"/></svg>
<div class="m" style="left:96.40px;top:476.40px;width:8.90px;height:8.76px;background:#b0b0b8"></div>
<div class="m" style="left:105.20px;top:476.40px;width:8.90px;height:8.76px;background:#b8b8c0"></div>
<div class="m" style="left:114.00px;top:476.40px;width:8.90px;height:8.76px;background:#bcbcc4"></div>
<div class="m" style="left:122.80px;top:476.40px;width:8.90px;height:8.76px;background:#b8b8c0"></div>
<div class="m" style="left:131.60px;top:476.40px;width:8.90px;height:8.76px;background:#a8a8b0"></div>
<div class="m" style="left:140.40px;top:476.40px;width:8.90px;height:8.76px;background:#c0c0c8"></div>
<div class="m" style="left:149.20px;top:476.40px;width:8.90px;height:8.76px;background:#b0b0b8"></div>
<div class="m" style="left:158.00px;top:476.40px;width:8.90px;height:8.76px;background:#a8a8b0"></div>
<div class="m" style="left:166.80px;top:476.40px;width:8.90px;height:8.76px;background:#e0e0e8"></div>
<div class="m" style="left:96.40px;top:485.06px;width:8.90px;height:8.76px;background:#d4d4dc"></div>
<div class="m" style="left:105.20px;top:485.06px;width:8.90px;height:8.76px;background:#d0d0d8"></div>
<div class="m" style="left:114.00px;top:485.06px;width:8.90px;height:8.76px;background:#d8d8e0"></div>
<div class="m" style="left:122.80px;top:485.06px;width:8.90px;height:8.76px;background:#d8d8e0"></div>
<div class="m" style="left:131.60px;top:485.06px;width:8.90px;height:8.76px;background:#e4e4ec"></div>
<div class="m" style="left:140.40px;top:485.06px;width:8.90px;height:8.76px;background:#dcdce4"></div>
<div class="m" style="left:149.20px;top:485.06px;width:8.90px;height:8.76px;background:#dcdce4"></div>
<div class="m" style="left:158.00px;top:485.06px;width:8.90px;height:8.76px;background:#d8d8e0"></div>
<div class="m" style="left:166.80px;top:485.06px;width:8.90px;height:8.76px;background:#f4f4fc"></div>
<div class="m" style="left:96.40px;top:493.72px;width:8.90px;height:8.76px;background:#c8c8d0"></div>
<div class="m" style="left:105.20px;top:493.72px;width:8.90px;height:8.76px;background:#d0d0d8"></div>
<div class="m" style="left:114.00px;top:493.72px;width:8.90px;height:8.76px;background:#dcdce4"></div>
<div class="m" style="left:122.80px;top:493.72px;width:8.90px;height:8.76px;background:#dcdce4"></div>
<div class="m" style="left:131.60px;top:493.72px;width:8.90px;height:8.76px;background:#c0c0c8"></div>
<div class="m" style="left:140.40px;top:493.72px;width:8.90px;height:8.76px;background:#d8d8e0"></div>
<div class="m" style="left:149.20px;top:493.72px;width:8.90px;height:8.76px;background:#ccccd4"></div>
<div class="m" style="left:158.00px;top:493.72px;width:8.90px;height:8.76px;background:#ccccd4"></div>
<div class="m" style="left:166.80px;top:493.72px;width:8.90px;height:8.76px;background:#e4e4ec"></div>
<div class="m" style="left:96.40px;top:502.38px;width:8.90px;height:8.76px;background:#bcbcc4"></div>
<div class="m" style="left:105.20px;top:502.38px;width:8.90px;height:8.76px;background:#c0c0c8"></div>
<div class="m" style="left:114.00px;top:502.38px;width:8.90px;height:8.76px;background:#c4c4cc"></div>
<div class="m" style="left:122.80px;top:502.38px;width:8.90px;height:8.76px;background:#bcbcc4"></div>
<div class="m" style="left:131.60px;top:502.38px;width:8.90px;height:8.76px;background:#c0c0c8"></div>
<div class="m" style="left:140.40px;top:502.38px;width:8.90px;height:8.76px;background:#b8b8c0"></div>
<div class="m" style="left:149.20px;top:502.38px;width:8.90px;height:8.76px;background:#b0b0b8"></div>
<div class="m" style="left:158.00px;top:502.38px;width:8.90px;height:8.76px;background:#b8b8c0"></div>
<div class="m" style="left:166.80px;top:502.38px;width:8.90px;height:8.76px;background:#c8c8d0"></div>
<div class="m" style="left:96.40px;top:511.04px;width:8.90px;height:8.76px;background:#ccccd4"></div>
<div class="m" style="left:105.20px;top:511.04px;width:8.90px;height:8.76px;background:#d0d0d8"></div>
<div class="m" style="left:114.00px;top:511.04px;width:8.90px;height:8.76px;background:#c4c4cc"></div>
<div class="m" style="left:122.80px;top:511.04px;width:8.90px;height:8.76px;background:#d4d4dc"></div>
<div class="m" style="left:131.60px;top:511.04px;width:8.90px;height:8.76px;background:#d4d4dc"></div>
<div class="m" style="left:140.40px;top:511.04px;width:8.90px;height:8.76px;background:#d4d4dc"></div>
<div class="m" style="left:149.20px;top:511.04px;width:8.90px;height:8.76px;background:#d4d4dc"></div>
<div class="m" style="left:158.00px;top:511.04px;width:8.90px;height:8.76px;background:#ccccd4"></div>
<div class="m" style="left:166.80px;top:511.04px;width:8.90px;height:8.76px;background:#f4f4fc"></div>
<div class="m" style="left:96.40px;top:519.70px;width:8.90px;height:8.76px;background:#d0d0d8"></div>
<div class="m" style="left:105.20px;top:519.70px;width:8.90px;height:8.76px;background:#d0d0d8"></div>
<div class="m" style="left:114.00px;top:519.70px;width:8.90px;height:8.76px;background:#ccccd4"></div>
<div class="m" style="left:122.80px;top:519.70px;width:8.90px;height:8.76px;background:#e0e0e8"></div>
<div class="m" style="left:131.60px;top:519.70px;width:8.90px;height:8.76px;background:#d4d4dc"></div>
<div class="m" style="left:140.40px;top:519.70px;width:8.90px;height:8.76px;background:#e4e4ec"></div>
<div class="m" style="left:149.20px;top:519.70px;width:8.90px;height:8.76px;background:#d4d4dc"></div>
<div class="m" style="left:158.00px;top:519.70px;width:8.90px;height:8.76px;background:#d4d4dc"></div>
<div class="m" style="left:166.80px;top:519.70px;width:8.90px;height:8.76px;background:#e4e4ec"></div>
<div class="m" style="left:96.40px;top:528.36px;width:8.90px;height:8.76px;background:#c8c8d0"></div>
<div class="m" style="left:105.20px;top:528.36px;width:8.90px;height:8.76px;background:#ccccd4"></div>
<div class="m" style="left:114.00px;top:528.36px;width:8.90px;height:8.76px;background:#c8c8d0"></div>
<div class="m" style="left:122.80px;top:528.36px;width:8.90px;height:8.76px;background:#bcbcc4"></div>
<div class="m" style="left:131.60px;top:528.36px;width:8.90px;height:8.76px;background:#b0b0b8"></div>
<div class="m" style="left:140.40px;top:528.36px;width:8.90px;height:8.76px;background:#c4c4cc"></div>
<div class="m" style="left:149.20px;top:528.36px;width:8.90px;height:8.76px;background:#bcbcc4"></div>
<div class="m" style="left:158.00px;top:528.36px;width:8.90px;height:8.76px;background:#acacb4"></div>
<div class="m" style="left:166.80px;top:528.36px;width:8.90px;height:8.76px;background:#e4e4ec"></div>
<div class="m" style="left:96.40px;top:537.02px;width:8.90px;height:8.76px;background:#c8c8d0"></div>
<div class="m" style="left:105.20px;top:537.02px;width:8.90px;height:8.76px;background:#c8c8d0"></div>
<div class="m" style="left:114.00px;top:537.02px;width:8.90px;height:8.76px;background:#d8d8e0"></div>
<div class="m" style="left:122.80px;top:537.02px;width:8.90px;height:8.76px;background:#ccccd4"></div>
<div class="m" style="left:131.60px;top:537.02px;width:8.90px;height:8.76px;background:#ccccd4"></div>
<div class="m" style="left:140.40px;top:537.02px;width:8.90px;height:8.76px;background:#d0d0d8"></div>
<div class="m" style="left:149.20px;top:537.02px;width:8.90px;height:8.76px;background:#ccccd4"></div>
<div class="m" style="left:158.00px;top:537.02px;width:8.90px;height:8.76px;background:#c4c4cc"></div>
<div class="m" style="left:166.80px;top:537.02px;width:8.90px;height:8.76px;background:#f4f4fc"></div>
<div class="m" style="left:96.40px;top:545.68px;width:8.90px;height:8.76px;background:#d0d0d8"></div>
<div class="m" style="left:105.20px;top:545.68px;width:8.90px;height:8.76px;background:#d0d0d8"></div>
<div class="m" style="left:114.00px;top:545.68px;width:8.90px;height:8.76px;background:#ccccd4"></div>
<div class="m" style="left:122.80px;top:545.68px;width:8.90px;height:8.76px;background:#e4e4ec"></div>
<div class="m" style="left:131.60px;top:545.68px;width:8.90px;height:8.76px;background:#dcdce4"></div>
<div class="m" style="left:140.40px;top:545.68px;width:8.90px;height:8.76px;background:#e4e4ec"></div>
<div class="m" style="left:149.20px;top:545.68px;width:8.90px;height:8.76px;background:#d8d8e0"></div>
<div class="m" style="left:158.00px;top:545.68px;width:8.90px;height:8.76px;background:#d8d8e0"></div>
<div class="m" style="left:166.80px;top:545.68px;width:8.90px;height:8.76px;background:#e4e4ec"></div>
<div class="m" style="left:96.40px;top:554.34px;width:8.90px;height:8.76px;background:#c8c8d0"></div>
<div class="m" style="left:105.20px;top:554.34px;width:8.90px;height:8.76px;background:#ccccd4"></div>
<div class="m" style="left:114.00px;top:554.34px;width:8.90px;height:8.76px;background:#e4e4ec"></div>
<div class="m" style="left:122.80px;top:554.34px;width:8.90px;height:8.76px;background:#c0c0c8"></div>
<div class="m" style="left:131.60px;top:554.34px;width:8.90px;height:8.76px;background:#acacb4"></div>
<div class="m" style="left:140.40px;top:554.34px;width:8.90px;height:8.76px;background:#c0c0c8"></div>
<div class="m" style="left:149.20px;top:554.34px;width:8.90px;height:8.76px;background:#c0c0c8"></div>
<div class="m" style="left:158.00px;top:554.34px;width:8.90px;height:8.76px;background:#b0b0b8"></div>
<div class="m" style="left:166.80px;top:554.34px;width:8.90px;height:8.76px;background:#e4e4ec"></div>
<div class="m" style="left:96.40px;top:563.00px;width:8.90px;height:8.76px;background:#bcbcc4"></div>
<div class="m" style="left:105.20px;top:563.00px;width:8.90px;height:8.76px;background:#bcbcc4"></div>
<div class="m" style="left:114.00px;top:563.00px;width:8.90px;height:8.76px;background:#c4c4cc"></div>
<div class="m" style="left:122.80px;top:563.00px;width:8.90px;height:8.76px;background:#c4c4cc"></div>
<div class="m" style="left:131.60px;top:563.00px;width:8.90px;height:8.76px;background:#bcbcc4"></div>
<div class="m" style="left:140.40px;top:563.00px;width:8.90px;height:8.76px;background:#ccccd4"></div>
<div class="m" style="left:149.20px;top:563.00px;width:8.90px;height:8.76px;background:#c4c4cc"></div>
<div class="m" style="left:158.00px;top:563.00px;width:8.90px;height:8.76px;background:#c0c0c8"></div>
<div class="m" style="left:166.80px;top:563.00px;width:8.90px;height:8.76px;background:#ececf4"></div>
<div class="m" style="left:96.40px;top:571.66px;width:8.90px;height:8.76px;background:#d0d0d8"></div>
<div class="m" style="left:105.20px;top:571.66px;width:8.90px;height:8.76px;background:#d8d8e0"></div>
<div class="m" style="left:114.00px;top:571.66px;width:8.90px;height:8.76px;background:#d0d0d8"></div>
<div class="m" style="left:122.80px;top:571.66px;width:8.90px;height:8.76px;background:#dcdce4"></div>
<div class="m" style="left:131.60px;top:571.66px;width:8.90px;height:8.76px;background:#dcdce4"></div>
<div class="m" style="left:140.40px;top:571.66px;width:8.90px;height:8.76px;background:#dcdce4"></div>
<div class="m" style="left:149.20px;top:571.66px;width:8.90px;height:8.76px;background:#d8d8e0"></div>
<div class="m" style="left:158.00px;top:571.66px;width:8.90px;height:8.76px;background:#d8d8e0"></div>
<div class="m" style="left:166.80px;top:571.66px;width:8.90px;height:8.76px;background:#ececf4"></div>
<div class="m" style="left:96.40px;top:580.32px;width:8.90px;height:8.76px;background:#ccccd4"></div>
<div class="m" style="left:105.20px;top:580.32px;width:8.90px;height:8.76px;background:#d4d4dc"></div>
<div class="m" style="left:114.00px;top:580.32px;width:8.90px;height:8.76px;background:#d0d0d8"></div>
<div class="m" style="left:122.80px;top:580.32px;width:8.90px;height:8.76px;background:#d0d0d8"></div>
<div class="m" style="left:131.60px;top:580.32px;width:8.90px;height:8.76px;background:#bcbcc4"></div>
<div class="m" style="left:140.40px;top:580.32px;width:8.90px;height:8.76px;background:#d4d4dc"></div>
<div class="m" style="left:149.20px;top:580.32px;width:8.90px;height:8.76px;background:#ccccd4"></div>
<div class="m" style="left:158.00px;top:580.32px;width:8.90px;height:8.76px;background:#c8c8d0"></div>
<div class="m" style="left:166.80px;top:580.32px;width:8.90px;height:8.76px;background:#e4e4ec"></div>
<div class="m" style="left:96.40px;top:588.98px;width:8.90px;height:8.76px;background:#ccccd4"></div>
<div class="m" style="left:105.20px;top:588.98px;width:8.90px;height:8.76px;background:#c8c8d0"></div>
<div class="m" style="left:114.00px;top:588.98px;width:8.90px;height:8.76px;background:#c8c8d0"></div>
<div class="m" style="left:122.80px;top:588.98px;width:8.90px;height:8.76px;background:#bcbcc4"></div>
<div class="m" style="left:131.60px;top:588.98px;width:8.90px;height:8.76px;background:#b0b0b8"></div>
<div class="m" style="left:140.40px;top:588.98px;width:8.90px;height:8.76px;background:#c0c0c8"></div>
<div class="m" style="left:149.20px;top:588.98px;width:8.90px;height:8.76px;background:#b4b4bc"></div>
<div class="m" style="left:158.00px;top:588.98px;width:8.90px;height:8.76px;background:#b0b0b8"></div>
<div class="m" style="left:166.80px;top:588.98px;width:8.90px;height:8.76px;background:#e8e8f0"></div>
<div class="m" style="left:96.40px;top:597.64px;width:8.90px;height:8.76px;background:#e4e4ec"></div>
<div class="m" style="left:105.20px;top:597.64px;width:8.90px;height:8.76px;background:#e4e4ec"></div>
<div class="m" style="left:114.00px;top:597.64px;width:8.90px;height:8.76px;background:#dcdce4"></div>
<div class="m" style="left:122.80px;top:597.64px;width:8.90px;height:8.76px;background:#e0e0e8"></div>
<div class="m" style="left:131.60px;top:597.64px;width:8.90px;height:8.76px;background:#e4e4ec"></div>
<div class="m" style="left:140.40px;top:597.64px;width:8.90px;height:8.76px;background:#e4e4ec"></div>
<div class="m" style="left:149.20px;top:597.64px;width:8.90px;height:8.76px;background:#e4e4ec"></div>
<div class="m" style="left:158.00px;top:597.64px;width:8.90px;height:8.76px;background:#dcdce4"></div>
<div class="m" style="left:166.80px;top:597.64px;width:8.90px;height:8.76px;background:#f4f4fc"></div>
<div class="m" style="left:96.40px;top:606.30px;width:8.90px;height:8.76px;background:#dcdce4"></div>
<div class="m" style="left:105.20px;top:606.30px;width:8.90px;height:8.76px;background:#d4d4dc"></div>
<div class="m" style="left:114.00px;top:606.30px;width:8.90px;height:8.76px;background:#d0d0d8"></div>
<div class="m" style="left:122.80px;top:606.30px;width:8.90px;height:8.76px;background:#d8d8e0"></div>
<div class="m" style="left:131.60px;top:606.30px;width:8.90px;height:8.76px;background:#dcdce4"></div>
<div class="m" style="left:140.40px;top:606.30px;width:8.90px;height:8.76px;background:#d0d0d8"></div>
<div class="m" style="left:149.20px;top:606.30px;width:8.90px;height:8.76px;background:#d0d0d8"></div>
<div class="m" style="left:158.00px;top:606.30px;width:8.90px;height:8.76px;background:#c4c4cc"></div>
<div class="m" style="left:166.80px;top:606.30px;width:8.90px;height:8.76px;background:#e4e4ec"></div>
<div class="m" style="left:96.40px;top:614.96px;width:8.90px;height:8.76px;background:#d4d4dc"></div>
<div class="m" style="left:105.20px;top:614.96px;width:8.90px;height:8.76px;background:#d0d0d8"></div>
<div class="m" style="left:114.00px;top:614.96px;width:8.90px;height:8.76px;background:#d4d4dc"></div>
<div class="m" style="left:122.80px;top:614.96px;width:8.90px;height:8.76px;background:#ccccd4"></div>
<div class="m" style="left:131.60px;top:614.96px;width:8.90px;height:8.76px;background:#c8c8d0"></div>
<div class="m" style="left:140.40px;top:614.96px;width:8.90px;height:8.76px;background:#b8b8c0"></div>
<div class="m" style="left:149.20px;top:614.96px;width:8.90px;height:8.76px;background:#bcbcc4"></div>
<div class="m" style="left:158.00px;top:614.96px;width:8.90px;height:8.76px;background:#acacb4"></div>
<div class="m" style="left:166.80px;top:614.96px;width:8.90px;height:8.76px;background:#e4e4ec"></div>
<div class="m" style="left:96.40px;top:623.62px;width:8.90px;height:8.76px;background:#e0e0e8"></div>
<div class="m" style="left:105.20px;top:623.62px;width:8.90px;height:8.76px;background:#dcdce4"></div>
<div class="m" style="left:114.00px;top:623.62px;width:8.90px;height:8.76px;background:#d8d8e0"></div>
<div class="m" style="left:122.80px;top:623.62px;width:8.90px;height:8.76px;background:#d8d8e0"></div>
<div class="m" style="left:131.60px;top:623.62px;width:8.90px;height:8.76px;background:#dcdce4"></div>
<div class="m" style="left:140.40px;top:623.62px;width:8.90px;height:8.76px;background:#d0d0d8"></div>
<div class="m" style="left:149.20px;top:623.62px;width:8.90px;height:8.76px;background:#dcdce4"></div>
<div class="m" style="left:158.00px;top:623.62px;width:8.90px;height:8.76px;background:#d0d0d8"></div>
<div class="m" style="left:166.80px;top:623.62px;width:8.90px;height:8.76px;background:#f4f4fc"></div>
<div class="m" style="left:96.40px;top:632.28px;width:8.90px;height:8.76px;background:#dcdce4"></div>
<div class="m" style="left:105.20px;top:632.28px;width:8.90px;height:8.76px;background:#dcdce4"></div>
<div class="m" style="left:114.00px;top:632.28px;width:8.90px;height:8.76px;background:#d0d0d8"></div>
<div class="m" style="left:122.80px;top:632.28px;width:8.90px;height:8.76px;background:#e0e0e8"></div>
<div class="m" style="left:131.60px;top:632.28px;width:8.90px;height:8.76px;background:#e0e0e8"></div>
<div class="m" style="left:140.40px;top:632.28px;width:8.90px;height:8.76px;background:#dcdce4"></div>
<div class="m" style="left:149.20px;top:632.28px;width:8.90px;height:8.76px;background:#dcdce4"></div>
<div class="m" style="left:158.00px;top:632.28px;width:8.90px;height:8.76px;background:#d0d0d8"></div>
<div class="m" style="left:166.80px;top:632.28px;width:8.90px;height:8.76px;background:#e4e4ec"></div>
<div class="m" style="left:96.40px;top:640.94px;width:8.90px;height:8.76px;background:#d8d8e0"></div>
<div class="m" style="left:105.20px;top:640.94px;width:8.90px;height:8.76px;background:#d0d0d8"></div>
<div class="m" style="left:114.00px;top:640.94px;width:8.90px;height:8.76px;background:#b4b4bc"></div>
<div class="m" style="left:122.80px;top:640.94px;width:8.90px;height:8.76px;background:#ccccd4"></div>
<div class="m" style="left:131.60px;top:640.94px;width:8.90px;height:8.76px;background:#c8c8d0"></div>
<div class="m" style="left:140.40px;top:640.94px;width:8.90px;height:8.76px;background:#bcbcc4"></div>
<div class="m" style="left:149.20px;top:640.94px;width:8.90px;height:8.76px;background:#c0c0c8"></div>
<div class="m" style="left:158.00px;top:640.94px;width:8.90px;height:8.76px;background:#b0b0b8"></div>
<div class="m" style="left:166.80px;top:640.94px;width:8.90px;height:8.76px;background:#e4e4ec"></div>
<svg class="abs" style="left:0;top:0" width="200" height="676"><path d="M44.5 480.60H51 M44.5 493.10H51 M44.5 480.60V493.10 M40 486.85H44.5 M49.3 505.60H55.6 M54.6 518.10H60.6 M54.6 530.60H60.6 M54.6 518.10V530.60 M49.3 524.35H54.6 M49.3 505.60V524.35 M44.5 514.98H49.3 M49.3 543.10H55.6 M54.6 555.60H60.6 M54.6 568.10H60.6 M54.6 555.60V568.10 M49.3 561.85H54.6 M49.3 543.10V561.85 M44.5 552.48H49.3 M44.5 514.98V552.48 M40 533.73H44.5 M49.3 580.60H55.6 M54.6 593.10H60.6 M54.6 605.60H60.6 M54.6 593.10V605.60 M49.3 599.35H54.6 M49.3 580.60V599.35 M44.5 589.98H49.3 M49.3 618.10H55.6 M54.6 630.60H60.6 M54.6 643.10H60.6 M54.6 630.60V643.10 M49.3 636.85H54.6 M49.3 618.10V636.85 M44.5 627.48H49.3 M44.5 589.98V627.48 M40 608.73H44.5 M40 486.85V608.73" fill="none" stroke="#3d9ef8" stroke-width="1.85"/></svg>
<svg class="abs" style="left:0;top:0" width="968" height="676">
<g font-family="Liberation Sans, Arial, sans-serif" font-weight="bold" fill="#1e1e1e">
<rect x="535.5" y="483.9" width="5.50" height="5.80" fill="#787878"/>
<rect x="535.5" y="489.7" width="11.50" height="5.80" fill="#f4f4f4"/>
<rect x="535.5" y="495.5" width="5.50" height="5.20" fill="#f6f6f6"/>
<rect x="541" y="495.5" width="28.00" height="5.20" fill="#ececec"/>
<rect x="558.3" y="501" width="5.30" height="5.30" fill="#a8a8a8"/>
<rect x="558.3" y="506.3" width="5.30" height="5.30" fill="#c8c8c8"/>
<rect x="569.2" y="501" width="11.40" height="5.30" fill="#f0f0f0"/>
<rect x="575" y="506.3" width="5.60" height="5.80" fill="#ececec"/>
<rect x="580.6" y="506.3" width="5.80" height="5.80" fill="#7c7c7c"/>
<rect x="586.4" y="512.1" width="5.60" height="5.60" fill="#f0f0f0"/>
<rect x="592" y="517.7" width="5.60" height="5.80" fill="#ececec"/>
<rect x="592" y="523.5" width="5.60" height="5.50" fill="#f4f4f4"/>
<rect x="597.6" y="529" width="5.60" height="6.30" fill="#ececec"/>
<rect x="597.6" y="535.3" width="5.80" height="5.30" fill="#e8e8e8"/>
<rect x="603.4" y="535.3" width="5.30" height="5.30" fill="#a0a0a0"/>
<rect x="603.4" y="540.6" width="5.30" height="5.30" fill="#c8c8c8"/>
<rect x="608.7" y="540.6" width="5.80" height="5.30" fill="#f0f0f0"/>
<rect x="614.5" y="545.9" width="5.50" height="5.20" fill="#f0f0f0"/>
<rect x="620" y="545.9" width="6.00" height="5.20" fill="#e0e0e0"/>
<rect x="626" y="545.9" width="5.50" height="5.20" fill="#d8d8d8"/>
<rect x="621" y="551.1" width="5.50" height="5.90" fill="#f0f0f0"/>
<rect x="626.5" y="557" width="10.50" height="5.50" fill="#ececec"/>
<rect x="637.7" y="562.5" width="5.30" height="6.20" fill="#f0f0f0"/>
<rect x="643" y="562.5" width="11.40" height="6.20" fill="#c0c0c0"/>
<rect x="643" y="568.7" width="11.40" height="5.30" fill="#e0e0e0"/>
<rect x="654.4" y="562.5" width="16.60" height="6.20" fill="#f0f0f0"/>
<rect x="665.8" y="568.7" width="5.60" height="5.30" fill="#b0b0b0"/>
<rect x="671.4" y="568.7" width="5.30" height="5.30" fill="#e8e8e8"/>
<rect x="665.8" y="574" width="5.60" height="5.30" fill="#d0d0d0"/>
<rect x="671.4" y="574" width="5.30" height="5.30" fill="#f0f0f0"/>
<path d="M521.8 485.59999999999997V591.6999999999999" fill="none" stroke="#303030" stroke-width="1.6"/>
<path d="M521.0 590.9H680.8" fill="none" stroke="#202020" stroke-width="1.6"/>
<path d="M521.80 590.9v5 M553.50 590.9v5 M585.20 590.9v5 M616.90 590.9v5 M648.60 590.9v5 M680.30 590.9v5 M516.8 590.90h5 M516.8 569.96h5 M516.8 549.02h5 M516.8 528.08h5 M516.8 507.14h5 M516.8 486.20h5" stroke="#2a2a2a" stroke-width="1.1"/>
<text x="516.3" y="593.30" font-size="8px" text-anchor="end">0</text>
<text x="516.3" y="572.36" font-size="8px" text-anchor="end">20</text>
<text x="516.3" y="551.42" font-size="8px" text-anchor="end">40</text>
<text x="516.3" y="530.48" font-size="8px" text-anchor="end">60</text>
<text x="516.3" y="509.54" font-size="8px" text-anchor="end">80</text>
<text x="516.3" y="488.60" font-size="8px" text-anchor="end">100</text>
<text x="521.80" y="603.9" font-size="8px" text-anchor="middle">0.01</text>
<text x="553.50" y="603.9" font-size="8px" text-anchor="middle">0.1</text>
<text x="585.20" y="603.9" font-size="8px" text-anchor="middle">1</text>
<text x="616.90" y="603.9" font-size="8px" text-anchor="middle">10</text>
<text x="648.60" y="603.9" font-size="8px" text-anchor="middle">100</text>
<text x="680.30" y="603.9" font-size="8px" text-anchor="middle">1000</text>
<text x="513.4" y="473.2" font-size="10.15px">Inhibition of</text>
<text x="631.6" y="473.2" font-size="10.15px">by peptides</text>
<text transform="translate(499.2 538.5) rotate(-90)" font-size="9px" text-anchor="middle" textLength="104" lengthAdjust="spacingAndGlyphs">Inhibition percentage (%)</text>
<text x="571.0" y="617.1" font-size="8.7px" textLength="89.8" lengthAdjust="spacingAndGlyphs">peptide Log10.(ug/ml)</text>
<text x="567.0" y="559.9" font-size="8.8px" fill="#4f4ff5" textLength="44.4" lengthAdjust="spacingAndGlyphs">IC50=3.098</text>
</g></svg>
<svg class="abs" style="left:0;top:0" width="968" height="676">
<g font-family="Liberation Sans, Arial, sans-serif" font-weight="bold" fill="#1e1e1e">
<rect x="762.3" y="479.4" width="10.50" height="5.60" fill="#c8c8c8"/>
<rect x="762.3" y="485" width="10.50" height="4.40" fill="#e8e8e8"/>
<rect x="767.6" y="489.4" width="63.20" height="5.30" fill="#ececec"/>
<rect x="808" y="494.7" width="22.80" height="5.80" fill="#eeeeee"/>
<rect x="830" y="494.7" width="11.30" height="5.80" fill="#b0b0b0"/>
<rect x="830" y="489.4" width="11.30" height="5.30" fill="#f0f0f0"/>
<rect x="785" y="500.8" width="11.00" height="5.30" fill="#b8b8b8"/>
<rect x="808" y="500.8" width="10.80" height="5.30" fill="#b8b8b8"/>
<rect x="841.3" y="494.7" width="6.70" height="11.40" fill="#f0f0f0"/>
<rect x="847.5" y="500.5" width="6.10" height="5.60" fill="#ececec"/>
<rect x="853.6" y="495.6" width="10.20" height="10.50" fill="#d8d8d8"/>
<rect x="853.6" y="506.1" width="11.40" height="5.90" fill="#ececec"/>
<rect x="859" y="512" width="10.50" height="5.50" fill="#f0f0f0"/>
<rect x="864" y="517.5" width="11.60" height="6.00" fill="#ececec"/>
<rect x="870" y="523.5" width="5.60" height="5.50" fill="#e8e8e8"/>
<rect x="875.6" y="529" width="5.40" height="5.50" fill="#e8e8e8"/>
<rect x="875.6" y="534.5" width="11.40" height="5.80" fill="#e4e4e4"/>
<rect x="875.6" y="540.3" width="11.40" height="5.30" fill="#b0b0b0"/>
<rect x="887" y="545.6" width="5.30" height="5.40" fill="#f0f0f0"/>
<rect x="892.3" y="552" width="5.30" height="5.40" fill="#ececec"/>
<rect x="898.4" y="557.9" width="11.40" height="5.30" fill="#b8b8b8"/>
<path d="M751.1 482.2V592.5" fill="none" stroke="#505050" stroke-width="1.6"/>
<path d="M750.3000000000001 591.7H914.8" fill="none" stroke="#202020" stroke-width="1.6"/>
<path d="M751.10 591.7v4.5 M783.74 591.7v4.5 M816.38 591.7v4.5 M849.02 591.7v4.5 M881.66 591.7v4.5 M914.30 591.7v4.5 M746.6 591.70h4.5 M746.6 569.92h4.5 M746.6 548.14h4.5 M746.6 526.36h4.5 M746.6 504.58h4.5 M746.6 482.80h4.5" stroke="#2a2a2a" stroke-width="1.1"/>
<text x="745.8" y="594.10" font-size="8.1px" text-anchor="end">0</text>
<text x="745.8" y="572.32" font-size="8.1px" text-anchor="end">20</text>
<text x="745.8" y="550.54" font-size="8.1px" text-anchor="end">40</text>
<text x="745.8" y="528.76" font-size="8.1px" text-anchor="end">60</text>
<text x="745.8" y="506.98" font-size="8.1px" text-anchor="end">80</text>
<text x="745.8" y="485.20" font-size="8.1px" text-anchor="end">100</text>
<text x="751.10" y="605.0" font-size="8.1px" text-anchor="middle">0.01</text>
<text x="783.74" y="605.0" font-size="8.1px" text-anchor="middle">0.1</text>
<text x="816.38" y="605.0" font-size="8.1px" text-anchor="middle">1</text>
<text x="849.02" y="605.0" font-size="8.1px" text-anchor="middle">10</text>
<text x="881.66" y="605.0" font-size="8.1px" text-anchor="middle">100</text>
<text x="914.30" y="605.0" font-size="8.1px" text-anchor="middle">1000</text>
<text x="742.6" y="468.6" font-size="10.25px">Inhibition of</text>
<text x="865.2" y="468.6" font-size="10.25px">by peptides</text>
<text transform="translate(728.6 537.5) rotate(-90)" font-size="9.2px" text-anchor="middle" textLength="108" lengthAdjust="spacingAndGlyphs">Inhibition percentage (%)</text>
<text x="802.5" y="618.8" font-size="9px" textLength="93.4" lengthAdjust="spacingAndGlyphs">peptide Log10.(ug/ml)</text>
<text x="807.0" y="559.6" font-size="8.8px" fill="#4f4ff5" textLength="45.2" lengthAdjust="spacingAndGlyphs">IC50=89.82</text>
</g></svg>
<div class="m" style="left:573.30px;top:463.70px;width:3.88px;height:3.77px;background:#d8d8d8"></div>
<div class="m" style="left:577.08px;top:463.70px;width:3.88px;height:3.77px;background:#a8a8a8"></div>
<div class="m" style="left:580.86px;top:463.70px;width:3.88px;height:3.77px;background:#b0b0b0"></div>
<div class="m" style="left:584.64px;top:463.70px;width:3.88px;height:3.77px;background:#b0b0b0"></div>
<div class="m" style="left:588.42px;top:463.70px;width:3.88px;height:3.77px;background:#a8a8a8"></div>
<div class="m" style="left:592.20px;top:463.70px;width:3.88px;height:3.77px;background:#e8e8e8"></div>
<div class="m" style="left:595.98px;top:463.70px;width:3.88px;height:3.77px;background:#b8b8b8"></div>
<div class="m" style="left:599.76px;top:463.70px;width:3.88px;height:3.77px;background:#f0f0f0"></div>
<div class="m" style="left:603.54px;top:463.70px;width:3.88px;height:3.77px;background:#a0a0a0"></div>
<div class="m" style="left:607.32px;top:463.70px;width:3.88px;height:3.77px;background:#a8a8a8"></div>
<div class="m" style="left:611.10px;top:463.70px;width:3.88px;height:3.77px;background:#a8a8a8"></div>
<div class="m" style="left:614.88px;top:463.70px;width:3.88px;height:3.77px;background:#b8b8b8"></div>
<div class="m" style="left:618.66px;top:463.70px;width:3.88px;height:3.77px;background:#c0c0c0"></div>
<div class="m" style="left:622.44px;top:463.70px;width:3.88px;height:3.77px;background:#c0c0c0"></div>
<div class="m" style="left:626.22px;top:463.70px;width:3.88px;height:3.77px;background:#a0a0a0"></div>
<div class="m" style="left:573.30px;top:467.37px;width:3.88px;height:3.77px;background:#c8c8c8"></div>
<div class="m" style="left:577.08px;top:467.37px;width:3.88px;height:3.77px;background:#707070"></div>
<div class="m" style="left:580.86px;top:467.37px;width:3.88px;height:3.77px;background:#909090"></div>
<div class="m" style="left:584.64px;top:467.37px;width:3.88px;height:3.77px;background:#c0c0c0"></div>
<div class="m" style="left:588.42px;top:467.37px;width:3.88px;height:3.77px;background:#a0a0a0"></div>
<div class="m" style="left:592.20px;top:467.37px;width:3.88px;height:3.77px;background:#808080"></div>
<div class="m" style="left:595.98px;top:467.37px;width:3.88px;height:3.77px;background:#808080"></div>
<div class="m" style="left:599.76px;top:467.37px;width:3.88px;height:3.77px;background:#a0a0a0"></div>
<div class="m" style="left:603.54px;top:467.37px;width:3.88px;height:3.77px;background:#c8c8c8"></div>
<div class="m" style="left:607.32px;top:467.37px;width:3.88px;height:3.77px;background:#a0a0a0"></div>
<div class="m" style="left:611.10px;top:467.37px;width:3.88px;height:3.77px;background:#b0b0b0"></div>
<div class="m" style="left:614.88px;top:467.37px;width:3.88px;height:3.77px;background:#a8a8a8"></div>
<div class="m" style="left:618.66px;top:467.37px;width:3.88px;height:3.77px;background:#b8b8b8"></div>
<div class="m" style="left:622.44px;top:467.37px;width:3.88px;height:3.77px;background:#909090"></div>
<div class="m" style="left:626.22px;top:467.37px;width:3.88px;height:3.77px;background:#707070"></div>
<div class="m" style="left:573.30px;top:471.03px;width:3.88px;height:3.77px;background:#f0f0f0"></div>
<div class="m" style="left:577.08px;top:471.03px;width:3.88px;height:3.77px;background:#d0d0d0"></div>
<div class="m" style="left:580.86px;top:471.03px;width:3.88px;height:3.77px;background:#e8e8e8"></div>
<div class="m" style="left:584.64px;top:471.03px;width:3.88px;height:3.77px;background:#f8f8f8"></div>
<div class="m" style="left:588.42px;top:471.03px;width:3.88px;height:3.77px;background:#d8d8d8"></div>
<div class="m" style="left:592.20px;top:471.03px;width:3.88px;height:3.77px;background:#f8f8f8"></div>
<div class="m" style="left:595.98px;top:471.03px;width:3.88px;height:3.77px;background:#e8e8e8"></div>
<div class="m" style="left:599.76px;top:471.03px;width:3.88px;height:3.77px;background:#f8f8f8"></div>
<div class="m" style="left:603.54px;top:471.03px;width:3.88px;height:3.77px;background:#d8d8d8"></div>
<div class="m" style="left:607.32px;top:471.03px;width:3.88px;height:3.77px;background:#f0f0f0"></div>
<div class="m" style="left:611.10px;top:471.03px;width:3.88px;height:3.77px;background:#d8d8d8"></div>
<div class="m" style="left:614.88px;top:471.03px;width:3.88px;height:3.77px;background:#f0f0f0"></div>
<div class="m" style="left:618.66px;top:471.03px;width:3.88px;height:3.77px;background:#f0f0f0"></div>
<div class="m" style="left:622.44px;top:471.03px;width:3.88px;height:3.77px;background:#c8c8c8"></div>
<div class="m" style="left:626.22px;top:471.03px;width:3.88px;height:3.77px;background:#e8e8e8"></div>
<div class="m" style="left:804.90px;top:458.20px;width:3.97px;height:3.83px;background:#f0f0f0"></div>
<div class="m" style="left:808.77px;top:458.20px;width:3.97px;height:3.83px;background:#e8e8e8"></div>
<div class="m" style="left:812.63px;top:458.20px;width:3.97px;height:3.83px;background:#e8e8e8"></div>
<div class="m" style="left:816.50px;top:458.20px;width:3.97px;height:3.83px;background:#e8e8e8"></div>
<div class="m" style="left:820.37px;top:458.20px;width:3.97px;height:3.83px;background:#f0f0f0"></div>
<div class="m" style="left:824.23px;top:458.20px;width:3.97px;height:3.83px;background:#f8f8f8"></div>
<div class="m" style="left:828.10px;top:458.20px;width:3.97px;height:3.83px;background:#f0f0f0"></div>
<div class="m" style="left:831.97px;top:458.20px;width:3.97px;height:3.83px;background:#f8f8f8"></div>
<div class="m" style="left:835.83px;top:458.20px;width:3.97px;height:3.83px;background:#e8e8e8"></div>
<div class="m" style="left:839.70px;top:458.20px;width:3.97px;height:3.83px;background:#e8e8e8"></div>
<div class="m" style="left:843.57px;top:458.20px;width:3.97px;height:3.83px;background:#f0f0f0"></div>
<div class="m" style="left:847.43px;top:458.20px;width:3.97px;height:3.83px;background:#f8f8f8"></div>
<div class="m" style="left:851.30px;top:458.20px;width:3.97px;height:3.83px;background:#f0f0f0"></div>
<div class="m" style="left:855.17px;top:458.20px;width:3.97px;height:3.83px;background:#e8e8e8"></div>
<div class="m" style="left:859.03px;top:458.20px;width:3.97px;height:3.83px;background:#f0f0f0"></div>
<div class="m" style="left:804.90px;top:461.93px;width:3.97px;height:3.83px;background:#888888"></div>
<div class="m" style="left:808.77px;top:461.93px;width:3.97px;height:3.83px;background:#808080"></div>
<div class="m" style="left:812.63px;top:461.93px;width:3.97px;height:3.83px;background:#808080"></div>
<div class="m" style="left:816.50px;top:461.93px;width:3.97px;height:3.83px;background:#888888"></div>
<div class="m" style="left:820.37px;top:461.93px;width:3.97px;height:3.83px;background:#808080"></div>
<div class="m" style="left:824.23px;top:461.93px;width:3.97px;height:3.83px;background:#b0b0b0"></div>
<div class="m" style="left:828.10px;top:461.93px;width:3.97px;height:3.83px;background:#a0a0a0"></div>
<div class="m" style="left:831.97px;top:461.93px;width:3.97px;height:3.83px;background:#b0b0b0"></div>
<div class="m" style="left:835.83px;top:461.93px;width:3.97px;height:3.83px;background:#a8a8a8"></div>
<div class="m" style="left:839.70px;top:461.93px;width:3.97px;height:3.83px;background:#a8a8a8"></div>
<div class="m" style="left:843.57px;top:461.93px;width:3.97px;height:3.83px;background:#a0a0a0"></div>
<div class="m" style="left:847.43px;top:461.93px;width:3.97px;height:3.83px;background:#a8a8a8"></div>
<div class="m" style="left:851.30px;top:461.93px;width:3.97px;height:3.83px;background:#989898"></div>
<div class="m" style="left:855.17px;top:461.93px;width:3.97px;height:3.83px;background:#707070"></div>
<div class="m" style="left:859.03px;top:461.93px;width:3.97px;height:3.83px;background:#c8c8c8"></div>
<div class="m" style="left:804.90px;top:465.67px;width:3.97px;height:3.83px;background:#a0a0a0"></div>
<div class="m" style="left:808.77px;top:465.67px;width:3.97px;height:3.83px;background:#a8a8a8"></div>
<div class="m" style="left:812.63px;top:465.67px;width:3.97px;height:3.83px;background:#c8c8c8"></div>
<div class="m" style="left:816.50px;top:465.67px;width:3.97px;height:3.83px;background:#f8f8f8"></div>
<div class="m" style="left:820.37px;top:465.67px;width:3.97px;height:3.83px;background:#909090"></div>
<div class="m" style="left:824.23px;top:465.67px;width:3.97px;height:3.83px;background:#b0b0b0"></div>
<div class="m" style="left:828.10px;top:465.67px;width:3.97px;height:3.83px;background:#b8b8b8"></div>
<div class="m" style="left:831.97px;top:465.67px;width:3.97px;height:3.83px;background:#d0d0d0"></div>
<div class="m" style="left:835.83px;top:465.67px;width:3.97px;height:3.83px;background:#a0a0a0"></div>
<div class="m" style="left:839.70px;top:465.67px;width:3.97px;height:3.83px;background:#a0a0a0"></div>
<div class="m" style="left:843.57px;top:465.67px;width:3.97px;height:3.83px;background:#a8a8a8"></div>
<div class="m" style="left:847.43px;top:465.67px;width:3.97px;height:3.83px;background:#a0a0a0"></div>
<div class="m" style="left:851.30px;top:465.67px;width:3.97px;height:3.83px;background:#989898"></div>
<div class="m" style="left:855.17px;top:465.67px;width:3.97px;height:3.83px;background:#909090"></div>
<div class="m" style="left:859.03px;top:465.67px;width:3.97px;height:3.83px;background:#d8d8d8"></div>
<div class="m" style="left:540.50px;top:610.10px;width:4.03px;height:4.10px;background:#d0d0d0"></div>
<div class="m" style="left:544.43px;top:610.10px;width:4.03px;height:4.10px;background:#a8a8a8"></div>
<div class="m" style="left:548.36px;top:610.10px;width:4.03px;height:4.10px;background:#a0a0a0"></div>
<div class="m" style="left:552.29px;top:610.10px;width:4.03px;height:4.10px;background:#a8a8a8"></div>
<div class="m" style="left:556.21px;top:610.10px;width:4.03px;height:4.10px;background:#e0e0e0"></div>
<div class="m" style="left:560.14px;top:610.10px;width:4.03px;height:4.10px;background:#b0b0b0"></div>
<div class="m" style="left:564.07px;top:610.10px;width:4.03px;height:4.10px;background:#a0a0a0"></div>
<div class="m" style="left:540.50px;top:614.10px;width:4.03px;height:4.10px;background:#e0e0e0"></div>
<div class="m" style="left:544.43px;top:614.10px;width:4.03px;height:4.10px;background:#b8b8b8"></div>
<div class="m" style="left:548.36px;top:614.10px;width:4.03px;height:4.10px;background:#b0b0b0"></div>
<div class="m" style="left:552.29px;top:614.10px;width:4.03px;height:4.10px;background:#b8b8b8"></div>
<div class="m" style="left:556.21px;top:614.10px;width:4.03px;height:4.10px;background:#f0f0f0"></div>
<div class="m" style="left:560.14px;top:614.10px;width:4.03px;height:4.10px;background:#c0c0c0"></div>
<div class="m" style="left:564.07px;top:614.10px;width:4.03px;height:4.10px;background:#b0b0b0"></div>
<div class="m" style="left:768.00px;top:611.60px;width:4.07px;height:4.05px;background:#d0d0d0"></div>
<div class="m" style="left:771.98px;top:611.60px;width:4.07px;height:4.05px;background:#c0c0c0"></div>
<div class="m" style="left:775.95px;top:611.60px;width:4.07px;height:4.05px;background:#989898"></div>
<div class="m" style="left:779.92px;top:611.60px;width:4.07px;height:4.05px;background:#c8c8c8"></div>
<div class="m" style="left:783.90px;top:611.60px;width:4.07px;height:4.05px;background:#c0c0c0"></div>
<div class="m" style="left:787.88px;top:611.60px;width:4.07px;height:4.05px;background:#a0a0a0"></div>
<div class="m" style="left:791.85px;top:611.60px;width:4.07px;height:4.05px;background:#c0c0c0"></div>
<div class="m" style="left:795.82px;top:611.60px;width:4.07px;height:4.05px;background:#d0d0d0"></div>
<div class="m" style="left:768.00px;top:615.55px;width:4.07px;height:4.05px;background:#d8d8d8"></div>
<div class="m" style="left:771.98px;top:615.55px;width:4.07px;height:4.05px;background:#c8c8c8"></div>
<div class="m" style="left:775.95px;top:615.55px;width:4.07px;height:4.05px;background:#a0a0a0"></div>
<div class="m" style="left:779.92px;top:615.55px;width:4.07px;height:4.05px;background:#d0d0d0"></div>
<div class="m" style="left:783.90px;top:615.55px;width:4.07px;height:4.05px;background:#c8c8c8"></div>
<div class="m" style="left:787.88px;top:615.55px;width:4.07px;height:4.05px;background:#b0b0b0"></div>
<div class="m" style="left:791.85px;top:615.55px;width:4.07px;height:4.05px;background:#c8c8c8"></div>
<div class="m" style="left:795.82px;top:615.55px;width:4.07px;height:4.05px;background:#d8d8d8"></div>
</body></html>
